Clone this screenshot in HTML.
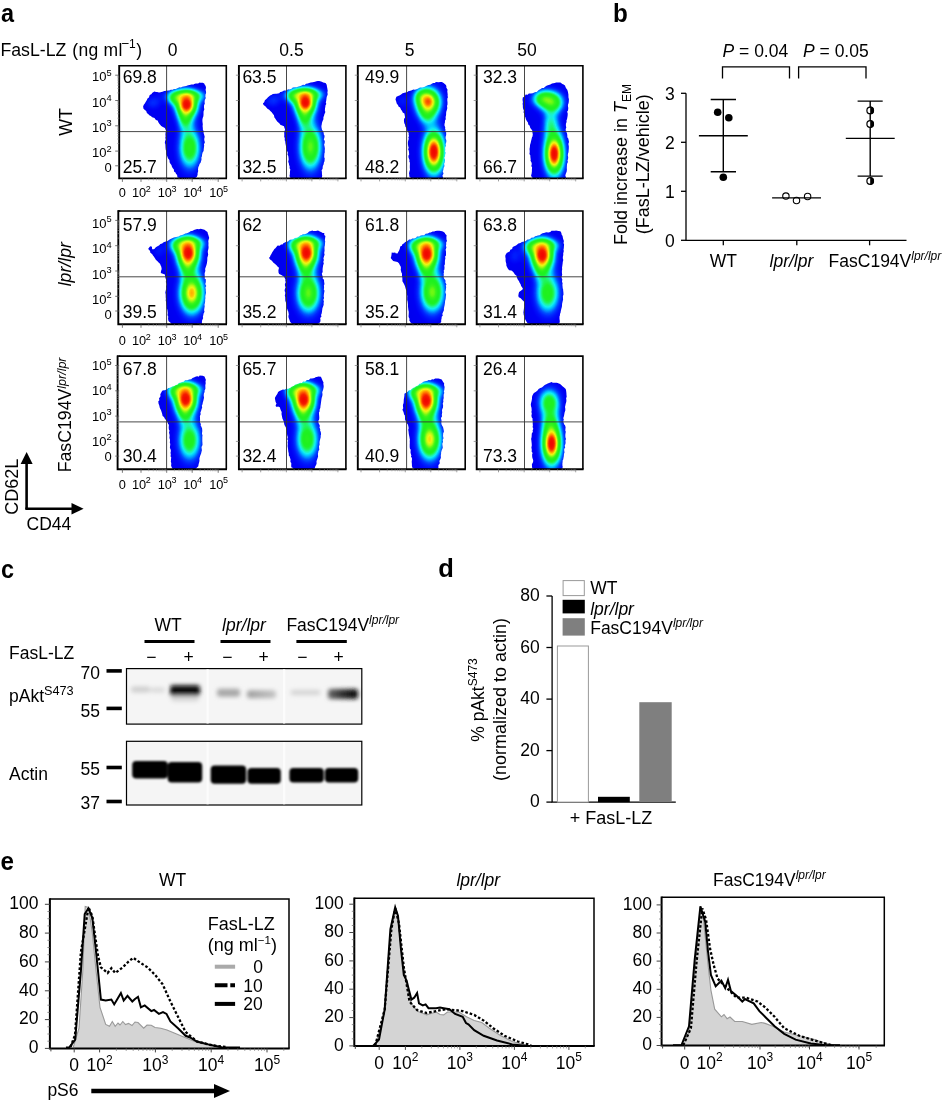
<!DOCTYPE html><html><head><meta charset="utf-8"><style>html,body{margin:0;padding:0;background:#fff;}svg{display:block;will-change:transform;}text{font-family:"Liberation Sans",sans-serif;fill:#000;}</style></head><body>
<svg width="946" height="1101" viewBox="0 0 946 1101">
<defs><filter id="jet" filterUnits="userSpaceOnUse" x="0" y="0" width="946" height="1101" color-interpolation-filters="sRGB">
<feGaussianBlur in="SourceGraphic" stdDeviation="1.2" result="b"/>
<feColorMatrix in="b" type="matrix" values="0 0 0 1 0  0 0 0 1 0  0 0 0 1 0  0 0 0 0 1" result="g"/>
<feComponentTransfer in="g">
<feFuncR type="table" tableValues="0.000 0.000 0.000 0.000 0.000 0.000 0.000 0.078 0.118 0.118 0.118 0.118 0.157 0.235 0.431 0.706 0.941 1.000 1.000 0.961 0.941"/>
<feFuncG type="table" tableValues="0.000 0.000 0.059 0.157 0.314 0.549 0.784 0.941 0.961 0.961 0.949 0.949 0.949 0.961 0.973 0.980 0.961 0.745 0.431 0.118 0.000"/>
<feFuncB type="table" tableValues="0.941 0.961 0.980 1.000 1.000 1.000 1.000 0.941 0.667 0.353 0.157 0.118 0.118 0.098 0.078 0.078 0.078 0.000 0.000 0.000 0.000"/>
</feComponentTransfer>
</filter><radialGradient id="gau"><stop offset="0.00" stop-color="#fff" stop-opacity="1.0000"/><stop offset="0.10" stop-color="#fff" stop-opacity="0.9560"/><stop offset="0.20" stop-color="#fff" stop-opacity="0.8353"/><stop offset="0.30" stop-color="#fff" stop-opacity="0.6670"/><stop offset="0.40" stop-color="#fff" stop-opacity="0.4868"/><stop offset="0.50" stop-color="#fff" stop-opacity="0.3247"/><stop offset="0.60" stop-color="#fff" stop-opacity="0.1979"/><stop offset="0.70" stop-color="#fff" stop-opacity="0.1103"/><stop offset="0.80" stop-color="#fff" stop-opacity="0.0561"/><stop offset="0.90" stop-color="#fff" stop-opacity="0.0261"/><stop offset="1.00" stop-color="#fff" stop-opacity="0.0111"/></radialGradient><clipPath id="cl00"><path d="M143.1,106.4 L143.8,104.7 L144.8,103.6 L145.8,101.8 L146.6,100.4 L147.5,98.4 L148.9,97.4 L149.7,95.0 L151.3,94.3 L152.4,92.7 L154.4,91.6 L156.0,91.9 L157.1,91.9 L159.0,92.6 L160.5,92.2 L162.5,91.8 L164.2,91.1 L166.4,90.7 L168.2,90.6 L169.2,90.4 L170.8,89.7 L172.7,89.7 L173.9,89.1 L175.8,88.9 L177.8,87.9 L179.7,87.2 L180.9,87.4 L182.3,86.7 L183.7,86.5 L186.2,85.9 L188.1,85.2 L189.7,85.0 L191.4,84.4 L193.5,84.5 L194.8,83.8 L196.0,83.4 L198.1,83.4 L199.7,82.5 L200.4,82.8 L202.7,82.8 L204.2,83.4 L205.0,85.3 L205.6,85.8 L206.0,87.8 L205.6,89.7 L206.0,91.5 L206.1,93.1 L205.5,94.4 L205.4,96.7 L205.8,97.9 L204.8,99.9 L204.6,102.0 L204.8,103.6 L204.0,105.6 L204.0,107.6 L204.3,109.5 L203.6,111.2 L203.5,112.4 L203.5,114.9 L203.3,116.6 L202.7,117.9 L202.4,119.8 L202.4,120.9 L202.6,122.7 L202.8,124.2 L202.6,125.9 L202.8,127.7 L202.9,130.0 L203.7,131.0 L203.6,132.9 L204.0,134.3 L204.7,136.8 L204.5,137.8 L204.2,139.1 L204.4,140.8 L204.9,142.2 L203.9,144.5 L204.2,145.4 L204.0,146.9 L203.7,149.5 L203.6,151.0 L202.6,152.4 L202.1,154.5 L202.0,156.2 L201.4,157.3 L201.5,159.7 L201.1,161.1 L200.6,162.7 L199.5,164.0 L199.3,164.9 L198.3,167.2 L198.0,169.5 L198.2,171.1 L197.6,173.3 L197.6,174.8 L196.9,176.7 L195.3,178.0 L194.5,179.0 L193.1,178.7 L191.1,179.2 L188.4,179.1 L187.1,179.2 L184.9,178.8 L182.4,179.0 L180.8,178.8 L180.2,178.2 L177.5,177.6 L177.1,175.1 L175.8,173.5 L175.7,172.8 L174.0,171.4 L173.9,169.6 L172.6,168.1 L171.6,166.1 L171.6,165.2 L170.4,163.8 L169.6,162.2 L169.4,159.9 L168.1,158.4 L167.5,157.1 L166.9,155.3 L166.3,154.2 L166.2,152.2 L166.1,151.0 L165.7,149.4 L165.5,147.4 L165.4,145.3 L165.3,143.9 L164.8,142.9 L165.1,141.0 L165.7,139.5 L165.3,137.8 L165.6,136.4 L165.4,134.4 L165.6,132.3 L166.1,131.0 L165.7,129.9 L164.9,128.0 L162.9,127.0 L161.2,126.0 L160.2,124.7 L159.3,123.8 L158.5,122.4 L157.6,120.6 L155.9,120.1 L154.5,118.1 L152.2,117.3 L150.8,116.0 L149.3,115.3 L148.7,114.5 L146.9,113.0 L146.2,111.1 L145.2,110.3 L143.5,108.7Z"/></clipPath><clipPath id="bx00"><rect x="119.2" y="65.8" width="107.1" height="112.6"/></clipPath><clipPath id="cl01"><path d="M262.9,103.5 L264.2,102.2 L264.9,100.3 L266.9,98.6 L268.0,97.2 L270.1,95.5 L271.8,94.7 L272.8,94.0 L275.3,93.7 L276.6,93.8 L279.2,93.3 L280.3,92.0 L281.9,91.8 L284.0,90.5 L286.2,90.5 L288.2,89.3 L289.2,89.5 L291.5,88.7 L292.8,87.5 L295.3,87.3 L296.5,87.2 L298.6,86.6 L299.6,86.2 L301.1,85.8 L303.0,84.8 L304.7,84.9 L306.0,83.7 L307.8,83.4 L309.1,82.9 L310.7,82.5 L312.8,82.2 L315.0,81.7 L316.4,81.3 L317.8,80.9 L319.2,80.9 L321.8,81.8 L323.2,82.4 L325.6,83.1 L326.7,84.8 L327.0,86.7 L327.3,88.2 L327.7,90.7 L327.4,92.6 L327.7,94.3 L327.3,95.6 L326.7,97.0 L326.4,99.2 L326.3,100.2 L325.8,102.5 L326.3,104.0 L325.5,105.2 L325.3,106.9 L325.0,108.5 L324.9,110.7 L325.4,112.0 L324.3,114.4 L324.1,115.4 L323.4,117.2 L323.4,119.2 L322.6,121.1 L322.0,122.8 L321.7,124.7 L321.4,126.0 L321.5,127.6 L322.0,129.8 L322.9,131.0 L323.6,132.6 L323.9,134.7 L324.6,135.7 L324.4,137.6 L323.8,139.4 L324.8,140.9 L324.7,142.9 L324.1,144.5 L324.6,146.8 L324.9,148.7 L324.7,150.7 L324.8,152.3 L324.4,153.4 L324.3,155.3 L324.2,157.2 L324.7,158.2 L324.5,161.3 L323.9,162.5 L323.6,164.6 L322.9,165.8 L322.7,167.0 L322.6,168.8 L321.6,170.3 L321.9,171.8 L322.0,174.4 L322.2,175.7 L321.8,177.8 L319.7,178.9 L318.5,178.6 L316.8,178.9 L315.9,179.1 L314.1,179.0 L311.8,179.3 L310.5,179.8 L308.6,179.5 L306.4,179.7 L304.3,179.4 L302.8,179.5 L300.9,180.2 L298.0,179.6 L297.1,180.0 L295.1,179.2 L293.4,179.7 L292.2,179.1 L291.1,178.8 L290.0,177.2 L289.5,175.9 L289.9,174.1 L289.9,172.2 L290.3,169.3 L289.5,168.2 L289.7,166.4 L289.0,164.8 L288.9,163.6 L288.2,161.8 L288.7,159.4 L288.6,158.3 L288.3,156.1 L287.5,154.4 L287.9,152.8 L287.0,150.7 L286.6,148.3 L286.1,147.5 L285.9,145.8 L285.4,143.3 L285.2,141.3 L284.7,140.2 L284.8,138.3 L284.2,136.7 L284.3,134.9 L284.2,132.2 L284.7,130.8 L285.1,129.5 L284.3,127.4 L284.0,126.3 L282.1,125.5 L280.3,124.8 L279.3,123.2 L277.7,121.9 L276.5,120.5 L275.2,118.5 L274.4,117.5 L273.9,115.1 L273.3,114.4 L271.7,112.2 L270.3,110.9 L269.2,109.8 L267.9,108.9 L267.2,108.5 L265.6,106.4 L263.6,105.0Z"/></clipPath><clipPath id="bx01"><rect x="238.9" y="65.8" width="107" height="112.6"/></clipPath><clipPath id="cl02"><path d="M395.9,98.0 L396.4,96.8 L398.7,95.7 L400.0,95.2 L401.7,94.0 L402.6,93.3 L404.5,92.7 L407.5,92.1 L408.7,90.9 L409.4,91.1 L411.9,90.3 L413.3,89.4 L414.9,89.7 L417.2,89.1 L419.1,88.0 L420.0,87.4 L422.1,87.4 L424.2,86.9 L425.6,86.3 L427.1,85.5 L428.4,85.1 L430.2,84.7 L432.2,83.5 L433.2,83.0 L435.1,83.0 L435.7,82.1 L438.7,82.2 L440.3,81.9 L441.9,82.1 L443.6,83.1 L445.9,85.0 L446.4,86.2 L446.3,87.5 L447.6,89.8 L447.3,91.2 L447.7,94.4 L447.6,95.4 L447.9,97.6 L447.3,98.4 L447.3,100.6 L447.5,102.2 L447.5,104.6 L447.0,106.0 L447.3,107.9 L447.0,109.6 L446.2,111.9 L446.1,113.9 L446.1,114.9 L445.6,117.0 L445.8,119.3 L445.0,120.5 L444.9,122.8 L444.6,123.5 L444.4,125.3 L445.2,127.2 L445.1,129.1 L445.6,129.7 L445.2,131.3 L446.1,132.0 L446.2,134.8 L445.9,135.9 L445.6,137.0 L445.7,138.8 L446.3,140.2 L446.3,142.0 L445.6,144.3 L445.9,145.8 L445.1,147.7 L445.3,149.9 L445.0,151.2 L445.6,152.7 L445.0,155.2 L445.2,156.1 L444.3,157.7 L445.1,159.8 L444.7,162.4 L444.1,163.7 L444.5,166.1 L443.6,168.1 L443.4,169.5 L442.8,171.7 L443.5,173.2 L443.3,174.0 L442.4,175.7 L443.0,177.3 L443.2,178.7 L440.6,178.8 L440.2,178.5 L438.8,179.2 L437.4,179.3 L435.7,179.0 L433.7,179.1 L432.3,178.9 L429.8,179.7 L427.9,179.1 L425.7,179.7 L424.0,180.2 L422.6,180.2 L420.1,179.3 L418.1,179.7 L417.0,179.6 L415.0,179.4 L414.0,179.5 L412.9,179.4 L411.9,178.4 L410.4,177.6 L409.3,176.5 L409.3,174.9 L409.0,173.3 L409.3,172.1 L410.0,169.5 L409.8,167.9 L409.8,165.8 L409.9,164.8 L409.9,162.6 L409.3,161.7 L409.5,160.0 L408.5,157.6 L408.4,155.8 L409.2,154.4 L409.0,152.4 L408.8,150.8 L408.1,149.6 L408.7,147.4 L408.3,146.6 L407.9,144.2 L407.9,142.1 L408.2,140.7 L408.8,138.7 L408.3,137.4 L409.0,135.9 L408.6,134.6 L408.7,133.0 L407.3,131.1 L407.0,130.1 L406.5,128.1 L405.4,126.8 L405.0,124.4 L404.3,123.2 L403.9,121.0 L404.1,118.7 L405.1,117.5 L404.6,114.8 L404.4,113.4 L402.7,112.6 L402.1,111.1 L401.1,109.7 L400.1,107.5 L398.5,106.4 L398.1,105.3 L396.7,103.6 L396.2,101.6 L395.5,99.6Z"/></clipPath><clipPath id="bx02"><rect x="357.8" y="65.8" width="107.4" height="112.6"/></clipPath><clipPath id="cl03"><path d="M522.5,99.8 L522.8,97.6 L524.6,96.6 L525.7,94.4 L527.7,94.8 L528.8,93.4 L530.9,93.4 L532.6,93.3 L534.2,92.5 L535.6,92.1 L536.7,92.0 L538.2,90.6 L538.8,89.9 L541.1,88.8 L541.9,88.1 L543.9,88.0 L544.7,86.9 L547.0,85.6 L548.8,84.9 L550.3,84.5 L552.0,83.6 L553.4,83.3 L554.8,82.9 L556.1,82.4 L558.0,82.6 L560.4,82.6 L562.4,83.9 L563.6,84.4 L565.0,85.6 L565.6,87.2 L566.3,88.6 L567.3,89.8 L567.9,91.7 L568.4,94.5 L568.4,96.1 L568.5,97.8 L568.9,99.1 L568.8,101.6 L568.6,103.1 L567.9,105.1 L568.1,106.9 L568.3,107.9 L568.0,110.5 L567.1,111.7 L567.7,113.2 L567.7,114.9 L567.5,116.6 L567.0,119.2 L566.5,120.3 L566.6,122.1 L565.9,123.7 L565.9,126.1 L566.3,127.6 L565.7,129.0 L565.7,130.2 L566.4,132.0 L567.1,133.8 L567.3,135.5 L567.3,137.2 L568.3,138.4 L568.7,140.5 L569.0,142.1 L568.4,143.8 L568.5,144.8 L568.8,146.3 L568.8,148.2 L568.6,150.7 L568.5,152.2 L568.1,153.3 L567.8,155.2 L568.2,157.2 L568.0,159.3 L567.5,160.2 L567.9,161.9 L567.0,164.1 L566.9,165.9 L566.8,168.0 L566.9,169.4 L566.7,171.4 L565.9,173.4 L565.7,174.1 L565.3,175.8 L565.9,177.0 L565.9,178.5 L562.7,178.9 L562.3,178.7 L561.1,178.9 L560.0,179.3 L557.8,179.6 L555.9,179.3 L554.4,179.1 L552.1,179.8 L550.1,179.6 L549.1,179.3 L546.4,179.8 L544.7,179.9 L543.1,179.4 L540.8,179.5 L538.8,180.0 L538.0,179.7 L535.8,179.7 L535.3,179.1 L534.3,178.8 L532.1,177.4 L531.2,176.1 L531.1,175.3 L531.6,173.7 L531.9,171.3 L531.9,169.4 L532.1,167.4 L531.3,166.1 L531.8,164.1 L531.4,162.2 L530.5,160.7 L530.7,159.6 L530.4,157.2 L530.3,155.3 L529.4,154.1 L529.7,152.2 L529.7,150.8 L529.5,149.1 L529.9,147.1 L530.0,145.1 L530.7,142.7 L531.0,141.2 L531.4,139.8 L532.0,137.3 L532.4,136.7 L532.8,134.5 L532.4,132.3 L532.6,131.4 L531.9,130.0 L530.3,128.0 L530.0,127.0 L529.7,125.7 L528.1,124.2 L528.1,122.8 L526.5,120.5 L525.7,118.8 L525.7,118.0 L524.9,116.6 L524.4,114.2 L523.5,112.2 L523.9,110.4 L523.2,108.9 L522.8,107.1 L522.9,106.0 L522.6,103.7 L522.9,102.2 L522.7,100.9Z"/></clipPath><clipPath id="bx03"><rect x="476.7" y="65.8" width="106.2" height="112.6"/></clipPath><clipPath id="cl10"><path d="M148.3,248.4 L149.0,247.8 L149.5,247.0 L150.5,246.3 L151.6,246.4 L152.1,247.4 L151.9,248.5 L153.1,249.8 L153.2,249.2 L154.7,248.7 L155.8,247.2 L157.9,246.1 L159.0,245.5 L160.4,244.0 L162.2,243.4 L163.2,242.6 L165.0,241.8 L167.6,240.9 L168.9,239.9 L170.1,239.3 L172.2,238.3 L173.9,237.6 L174.9,237.2 L177.3,236.7 L178.6,236.5 L180.1,235.4 L182.1,235.1 L184.0,234.3 L185.3,233.4 L186.9,233.2 L189.2,232.3 L190.5,231.3 L192.9,230.8 L193.9,230.1 L196.3,229.3 L197.1,229.0 L199.0,229.3 L200.6,228.7 L202.6,229.3 L204.5,229.8 L205.7,230.7 L207.5,232.1 L207.8,233.6 L208.2,234.6 L209.2,238.0 L208.9,238.8 L208.4,240.4 L208.3,241.6 L208.5,243.1 L208.4,245.6 L208.6,247.1 L208.4,249.0 L207.8,251.0 L207.9,253.0 L208.2,254.5 L207.7,256.5 L207.3,257.8 L207.3,260.2 L207.1,261.9 L206.8,263.7 L206.3,265.4 L205.6,267.4 L205.1,268.9 L205.4,270.9 L205.0,272.0 L204.6,273.6 L204.7,274.8 L204.8,277.6 L204.7,278.4 L205.8,279.3 L205.8,282.4 L205.4,283.1 L205.5,284.7 L206.3,285.9 L205.4,287.5 L205.8,289.3 L205.8,291.0 L206.1,292.6 L205.6,294.8 L205.3,296.3 L205.4,298.2 L205.1,300.1 L205.2,300.8 L205.0,302.7 L204.5,304.5 L204.7,306.6 L204.4,308.0 L204.1,310.2 L204.5,311.8 L203.5,313.8 L203.4,314.8 L202.8,316.9 L203.2,318.1 L202.6,319.3 L202.0,320.8 L201.9,322.8 L202.0,323.9 L198.8,323.8 L197.8,323.8 L196.8,324.1 L195.3,324.2 L193.1,324.3 L191.4,324.4 L189.0,325.1 L187.3,324.7 L185.3,325.0 L183.4,325.2 L181.7,325.0 L180.0,325.4 L177.3,325.3 L176.5,325.1 L174.2,325.0 L173.3,323.9 L171.6,324.5 L170.6,322.8 L168.9,321.4 L168.3,320.4 L168.0,318.1 L168.4,316.9 L167.5,315.1 L167.8,313.1 L167.6,311.4 L167.4,309.7 L166.5,308.0 L166.6,306.3 L166.3,304.8 L166.2,302.4 L165.7,300.6 L165.9,298.8 L165.7,297.2 L165.7,295.9 L165.7,294.4 L165.3,292.5 L165.8,290.3 L166.2,288.7 L166.0,286.5 L166.7,284.5 L166.5,283.4 L165.8,282.0 L166.2,280.0 L165.5,278.2 L165.1,276.1 L164.9,274.4 L162.8,273.8 L160.8,273.0 L161.0,270.9 L161.7,269.1 L161.3,266.7 L160.7,265.4 L160.0,263.8 L158.6,262.4 L157.0,260.8 L156.0,260.1 L155.1,258.4 L153.8,256.4 L152.8,255.2 L152.3,254.3 L150.2,252.4 L150.1,251.0 L148.6,249.5Z"/></clipPath><clipPath id="bx10"><rect x="119.2" y="211.0" width="107.1" height="113.3"/></clipPath><clipPath id="cl11"><path d="M268.9,257.8 L270.0,257.0 L270.3,255.7 L271.4,254.0 L272.1,252.4 L273.3,250.8 L274.4,249.1 L275.4,248.2 L276.8,246.6 L277.7,245.6 L279.7,245.8 L281.0,244.6 L282.5,244.4 L283.6,243.1 L284.4,242.7 L285.7,242.1 L288.1,241.6 L288.7,240.8 L290.0,239.7 L292.3,239.5 L294.0,238.7 L294.8,238.0 L297.0,237.8 L299.1,236.6 L300.1,235.6 L301.9,235.1 L302.8,234.3 L304.4,234.2 L306.1,233.8 L307.6,232.9 L309.1,231.4 L311.0,231.1 L312.4,230.6 L313.2,231.0 L315.9,231.0 L318.0,230.4 L319.9,231.4 L321.5,232.2 L322.7,233.0 L324.3,233.0 L324.2,234.9 L325.4,236.0 L325.0,239.1 L324.9,240.6 L325.2,241.2 L325.0,243.3 L324.9,245.2 L324.5,247.1 L324.5,248.9 L324.6,250.6 L324.2,252.9 L324.6,254.7 L324.1,256.1 L323.4,258.5 L323.9,260.1 L323.3,261.7 L323.8,263.8 L323.2,265.1 L322.8,267.6 L322.6,269.1 L322.6,271.0 L322.7,272.0 L321.8,273.4 L322.2,275.0 L322.9,277.5 L322.6,278.6 L324.0,279.8 L324.1,281.7 L324.4,283.4 L324.3,284.8 L323.9,285.5 L324.1,287.8 L323.8,289.4 L324.5,290.7 L324.1,292.9 L323.9,294.3 L323.7,296.6 L324.1,298.0 L323.3,300.1 L323.9,301.1 L323.6,303.2 L323.7,304.8 L323.0,306.8 L322.4,308.3 L322.1,310.7 L321.9,312.3 L321.6,313.8 L321.0,314.9 L321.5,316.6 L320.2,318.1 L320.5,319.9 L320.3,321.8 L319.5,322.7 L316.6,324.5 L316.4,324.2 L314.8,324.2 L313.5,324.5 L312.0,325.0 L310.1,325.3 L307.7,324.5 L305.7,324.8 L303.6,324.7 L302.1,325.5 L300.1,325.6 L298.7,324.6 L296.8,324.8 L294.7,325.1 L293.6,324.4 L292.8,324.5 L291.1,322.9 L289.8,321.3 L289.7,320.5 L288.6,317.7 L288.4,316.0 L288.8,314.5 L288.3,311.6 L287.9,310.9 L287.4,309.6 L286.5,307.2 L286.8,306.4 L286.4,304.1 L286.1,302.9 L285.3,300.7 L285.2,298.8 L285.2,297.2 L284.8,295.5 L285.2,293.7 L285.2,292.2 L284.6,291.1 L284.8,289.3 L285.5,287.4 L284.9,285.2 L284.9,284.1 L285.7,282.2 L285.2,280.6 L285.4,279.6 L284.1,276.7 L282.1,275.4 L281.2,275.0 L279.2,274.1 L278.5,272.5 L278.4,270.2 L279.0,267.8 L277.5,266.5 L276.5,265.3 L274.8,263.8 L273.2,262.5 L271.9,260.7 L270.1,259.5Z"/></clipPath><clipPath id="bx11"><rect x="238.9" y="211.0" width="107" height="113.3"/></clipPath><clipPath id="cl12"><path d="M391.7,252.5 L393.1,252.7 L395.3,252.6 L395.5,253.3 L397.5,253.6 L398.0,252.6 L399.1,250.5 L399.8,248.7 L400.2,246.5 L401.9,245.8 L402.2,244.5 L404.1,243.2 L405.2,242.0 L406.7,241.5 L408.4,240.3 L409.0,239.6 L411.0,239.4 L412.2,238.5 L414.1,238.4 L416.0,237.7 L417.0,236.6 L419.2,236.4 L420.8,235.5 L422.4,235.2 L424.2,235.2 L425.6,233.7 L427.8,233.5 L429.6,232.6 L430.7,232.6 L432.6,231.4 L434.2,231.4 L435.4,231.0 L437.1,230.7 L439.4,230.8 L442.2,231.2 L443.3,231.7 L444.7,232.8 L445.3,234.1 L446.6,235.2 L446.4,237.2 L446.5,239.5 L447.0,241.0 L446.2,242.3 L446.2,244.7 L445.9,245.6 L446.4,247.5 L445.6,249.8 L446.0,251.6 L446.0,253.0 L446.0,255.4 L445.1,256.6 L445.4,258.6 L445.0,260.0 L444.9,261.8 L444.9,264.2 L444.2,265.7 L444.5,267.0 L444.4,269.4 L443.7,270.5 L444.0,272.2 L443.5,274.0 L443.9,274.7 L443.5,276.6 L444.2,278.7 L445.1,279.8 L445.6,281.0 L445.3,282.2 L446.5,284.6 L445.8,285.5 L446.2,286.9 L446.0,288.3 L445.8,290.5 L445.3,291.9 L446.1,294.4 L445.9,296.1 L445.7,298.2 L445.6,299.1 L445.1,301.0 L445.0,302.6 L444.6,305.2 L444.3,306.5 L443.9,308.6 L443.9,310.3 L442.9,312.4 L442.3,314.0 L442.8,315.4 L441.7,316.8 L441.6,318.4 L441.2,320.1 L441.2,321.9 L440.3,322.9 L438.0,324.0 L437.6,324.3 L436.0,324.6 L434.1,324.9 L432.6,324.9 L430.8,325.0 L428.6,324.9 L426.4,325.3 L424.5,325.4 L422.1,325.2 L421.0,325.1 L418.8,325.2 L416.7,325.5 L415.1,325.0 L413.6,324.0 L413.2,323.9 L410.9,323.0 L410.3,322.1 L409.2,320.2 L409.6,319.1 L408.6,317.0 L408.6,315.6 L408.7,313.9 L408.8,311.7 L408.4,310.0 L408.2,308.2 L408.0,306.8 L408.0,304.5 L407.8,302.6 L407.6,301.3 L407.2,299.9 L407.2,297.6 L407.3,296.3 L406.9,294.1 L406.6,292.6 L406.6,291.0 L405.8,289.2 L405.2,287.1 L404.9,286.0 L404.0,284.0 L403.0,282.3 L402.4,281.2 L402.4,279.2 L402.3,277.4 L402.0,275.9 L402.0,273.4 L401.4,272.4 L400.7,269.8 L400.9,268.3 L400.8,266.7 L399.9,265.2 L398.9,263.3 L397.5,262.1 L395.2,261.4 L393.2,261.0 L392.1,259.8 L390.7,257.9 L391.2,256.4 L391.5,254.7Z"/></clipPath><clipPath id="bx12"><rect x="357.8" y="211.0" width="107.4" height="113.3"/></clipPath><clipPath id="cl13"><path d="M506.2,254.0 L506.6,252.9 L508.6,251.9 L509.7,251.4 L510.3,249.8 L512.1,249.0 L512.7,246.9 L514.8,246.1 L516.0,245.6 L517.5,244.3 L518.4,243.5 L520.4,243.0 L521.9,241.9 L524.2,241.5 L525.9,241.1 L527.5,239.5 L528.7,239.6 L530.1,238.9 L531.3,237.8 L533.7,237.4 L535.1,236.3 L536.5,236.0 L537.8,235.5 L539.6,235.2 L541.2,234.1 L542.5,233.3 L544.9,232.7 L546.1,232.3 L548.4,232.4 L550.3,232.0 L551.5,230.8 L553.8,230.8 L555.2,230.7 L555.9,230.5 L558.4,231.1 L560.4,231.2 L561.4,233.0 L561.6,234.6 L562.6,236.0 L562.8,237.2 L563.0,238.4 L563.9,241.0 L563.5,243.1 L564.1,244.5 L563.9,246.7 L563.8,248.3 L563.5,249.4 L563.8,251.0 L563.2,253.4 L563.3,255.1 L562.9,256.4 L562.8,258.2 L563.3,260.1 L562.8,261.7 L562.6,263.8 L562.4,265.3 L562.0,267.9 L562.2,269.1 L561.9,271.0 L561.9,272.6 L562.2,274.6 L561.7,276.7 L561.6,277.9 L562.3,279.2 L562.0,281.9 L562.6,282.9 L562.4,285.1 L562.6,286.8 L562.7,288.3 L563.1,289.2 L563.2,290.8 L563.4,292.6 L563.5,294.7 L562.9,296.1 L563.0,297.9 L563.1,299.6 L562.5,301.9 L562.1,303.8 L562.0,305.4 L561.9,306.8 L561.4,308.4 L560.8,310.9 L560.6,312.4 L560.0,313.9 L559.9,315.4 L559.5,316.4 L559.5,318.8 L559.8,321.3 L559.6,322.7 L557.8,324.3 L556.8,324.6 L554.8,324.2 L553.3,324.8 L552.3,324.6 L550.3,325.0 L548.8,324.8 L547.0,325.0 L544.8,324.9 L542.3,325.6 L540.9,325.4 L538.3,324.7 L536.5,324.8 L534.9,324.9 L533.0,324.6 L532.1,324.3 L530.9,324.4 L529.7,323.8 L527.6,323.2 L526.2,321.3 L525.8,320.6 L524.6,318.2 L524.8,317.0 L523.7,314.9 L523.6,313.8 L523.4,312.5 L523.8,309.6 L524.0,308.0 L524.5,306.6 L524.3,304.1 L524.7,302.7 L523.9,301.4 L522.3,300.1 L520.7,298.3 L518.8,297.3 L518.3,295.9 L518.6,293.7 L519.1,292.1 L519.8,291.5 L521.2,290.4 L523.0,289.0 L522.2,287.5 L521.1,286.1 L520.6,284.3 L519.5,282.5 L519.0,281.3 L517.6,279.3 L517.0,277.7 L516.5,275.8 L514.9,274.6 L513.8,272.7 L513.0,271.7 L511.4,270.6 L509.2,270.2 L508.1,269.1 L507.5,268.0 L506.4,265.8 L506.3,263.7 L505.8,261.9 L505.6,260.7 L505.6,258.3 L505.3,256.9 L505.4,255.0Z"/></clipPath><clipPath id="bx13"><rect x="476.7" y="211.0" width="106.2" height="113.3"/></clipPath><clipPath id="cl20"><path d="M158.3,401.2 L159.4,400.3 L159.0,398.4 L160.5,396.2 L160.3,394.2 L161.4,392.2 L162.2,390.7 L163.8,390.2 L164.9,390.2 L167.6,388.7 L168.2,388.0 L169.2,388.1 L171.4,387.0 L172.2,386.6 L174.4,386.1 L175.3,385.2 L177.6,384.4 L178.8,383.1 L180.9,382.5 L182.0,382.1 L183.6,381.7 L185.1,380.3 L187.2,380.2 L189.3,379.6 L191.2,379.2 L192.5,378.1 L193.9,377.4 L196.0,376.6 L197.6,376.3 L198.8,376.8 L199.6,375.6 L202.7,375.8 L204.5,376.4 L205.5,378.9 L205.9,379.7 L205.5,381.5 L205.7,383.2 L205.3,385.3 L205.4,388.1 L205.4,388.8 L204.6,390.6 L204.6,392.0 L203.9,393.4 L203.7,395.5 L204.0,397.7 L203.6,399.5 L203.3,400.9 L202.9,402.0 L202.5,404.2 L201.8,405.8 L202.2,407.4 L201.6,408.9 L201.0,411.2 L200.4,412.3 L200.7,414.2 L199.9,416.0 L200.0,417.5 L200.0,418.9 L200.1,420.2 L199.8,422.0 L200.9,424.0 L200.7,425.8 L201.3,426.6 L202.1,428.5 L202.3,430.9 L202.1,432.3 L202.0,433.9 L202.5,435.2 L202.3,437.0 L202.3,439.6 L202.3,441.4 L202.4,442.6 L202.5,445.0 L201.5,446.9 L201.6,447.9 L201.9,450.2 L201.5,451.7 L201.1,453.6 L200.2,455.7 L199.6,457.7 L199.4,459.1 L199.5,460.7 L199.2,462.3 L198.6,464.2 L198.3,466.2 L197.0,467.4 L196.0,468.5 L194.4,469.4 L192.7,469.2 L191.9,470.0 L190.3,469.4 L188.5,469.6 L186.6,470.4 L184.2,470.7 L182.8,470.0 L180.4,470.2 L179.2,470.3 L176.8,469.6 L175.3,470.1 L174.0,469.6 L173.1,469.3 L171.9,467.8 L171.6,466.9 L171.1,465.7 L171.3,463.2 L170.8,461.5 L171.0,460.1 L171.2,457.0 L170.5,456.5 L170.8,454.6 L170.5,452.8 L170.8,451.4 L170.8,449.9 L169.9,447.8 L170.0,446.6 L170.3,444.0 L169.8,442.6 L170.0,441.1 L169.9,439.3 L169.4,438.0 L169.6,436.1 L169.6,435.1 L169.0,432.4 L169.5,430.8 L168.9,429.4 L168.7,428.0 L168.7,426.9 L168.9,424.7 L168.1,424.1 L167.7,422.4 L166.5,420.8 L165.3,419.2 L164.7,418.5 L164.0,417.1 L162.6,416.0 L162.2,413.9 L161.6,412.0 L161.0,410.3 L160.1,408.5 L159.7,407.5 L159.2,405.3 L158.5,403.4Z"/></clipPath><clipPath id="bx20"><rect x="119.2" y="356.1" width="107.1" height="113.2"/></clipPath><clipPath id="cl21"><path d="M275.0,399.0 L274.9,397.8 L276.4,395.2 L277.4,393.8 L278.1,392.1 L279.5,391.0 L281.2,390.2 L282.9,389.5 L284.5,389.7 L286.4,388.6 L288.0,389.0 L289.0,388.2 L290.4,387.7 L291.6,386.7 L294.0,385.8 L294.9,384.8 L296.5,384.3 L298.7,383.6 L300.0,382.8 L301.7,382.9 L303.2,381.6 L305.1,381.7 L306.8,380.0 L308.9,380.1 L310.3,378.6 L312.0,378.4 L314.4,377.9 L316.0,376.9 L316.8,377.1 L318.3,376.6 L320.9,376.8 L321.6,378.2 L322.4,380.3 L323.0,381.4 L323.5,382.5 L323.3,383.8 L323.7,386.1 L323.6,387.5 L323.0,390.3 L322.6,391.0 L322.2,392.5 L322.5,394.0 L322.3,395.9 L321.7,397.8 L321.4,399.6 L321.2,400.9 L321.0,402.6 L320.7,404.7 L320.5,405.8 L320.3,408.0 L319.7,409.2 L319.5,411.7 L318.9,412.6 L319.1,414.9 L319.2,416.3 L319.3,417.9 L319.1,419.4 L318.3,421.1 L318.5,423.1 L319.2,424.3 L319.9,426.0 L319.4,427.2 L320.3,429.5 L320.0,430.2 L320.8,432.1 L321.1,434.3 L320.7,435.6 L320.7,437.3 L320.1,439.4 L319.7,440.9 L319.5,442.6 L319.6,444.7 L319.0,446.2 L319.1,448.3 L319.3,449.7 L318.4,450.9 L318.2,452.6 L317.9,453.7 L318.1,456.5 L317.3,458.9 L316.8,460.3 L316.4,462.1 L316.7,463.0 L316.2,464.8 L315.2,466.5 L314.7,468.5 L312.1,469.3 L311.3,469.3 L309.8,469.9 L307.7,470.1 L306.0,470.1 L304.5,469.6 L302.4,470.5 L299.9,469.5 L297.8,470.4 L296.0,470.1 L294.6,469.7 L293.4,468.8 L292.5,467.7 L291.3,467.3 L291.2,465.7 L291.3,463.1 L290.4,462.0 L290.5,459.3 L290.0,458.0 L289.5,456.3 L288.8,455.5 L288.8,453.6 L288.3,451.4 L288.1,449.5 L287.9,447.9 L287.6,446.1 L287.8,443.8 L287.6,442.4 L288.0,440.5 L287.2,439.2 L287.8,437.2 L287.1,434.9 L287.0,433.1 L286.6,432.1 L286.8,430.9 L286.1,427.9 L285.6,427.1 L284.5,425.0 L284.2,424.0 L283.9,421.9 L282.9,419.6 L282.4,418.4 L281.9,416.0 L281.5,414.1 L281.7,411.9 L281.0,410.8 L280.3,408.9 L279.8,407.2 L278.0,406.4 L276.8,407.0 L275.6,405.9 L275.8,405.0 L276.5,403.5 L275.6,402.0Z"/></clipPath><clipPath id="bx21"><rect x="238.9" y="356.1" width="107" height="113.2"/></clipPath><clipPath id="cl22"><path d="M402.4,409.8 L403.2,408.2 L403.1,407.0 L402.9,404.9 L403.6,402.9 L403.7,401.3 L403.8,399.5 L404.2,397.1 L404.4,395.4 L404.4,394.0 L404.7,393.5 L407.0,392.3 L407.9,391.5 L408.7,390.4 L410.7,390.0 L411.6,389.1 L413.4,387.8 L414.3,387.4 L416.1,386.3 L418.0,385.6 L419.6,383.8 L420.6,383.8 L422.4,382.4 L423.4,381.8 L425.0,381.3 L427.4,380.8 L428.7,379.9 L430.3,380.3 L432.2,379.3 L433.5,379.4 L435.1,378.5 L436.3,378.6 L438.5,378.4 L440.2,378.9 L441.7,379.4 L442.7,381.2 L443.2,382.0 L444.2,383.5 L444.0,385.1 L444.6,387.0 L444.3,390.2 L443.8,391.1 L444.3,392.9 L443.8,394.0 L443.6,396.1 L443.7,397.9 L443.2,400.1 L443.4,401.7 L442.7,403.8 L443.1,405.2 L443.0,407.4 L442.2,409.2 L442.0,410.4 L442.2,412.5 L441.8,414.4 L442.0,416.4 L440.9,418.0 L441.3,419.4 L441.6,420.9 L441.3,422.7 L441.5,424.2 L442.2,425.8 L443.0,427.0 L443.2,427.8 L443.8,430.6 L443.9,432.0 L443.2,432.9 L443.1,435.0 L443.0,436.0 L443.5,438.2 L442.7,440.1 L443.1,441.7 L442.3,443.7 L442.5,445.4 L442.8,447.4 L442.5,448.4 L441.7,450.3 L441.1,452.6 L441.1,453.8 L440.8,455.6 L440.9,457.7 L440.2,459.4 L439.4,461.0 L439.8,463.1 L439.4,463.9 L438.4,465.0 L438.4,466.4 L438.4,468.8 L436.2,469.0 L435.3,468.9 L434.0,469.4 L431.5,469.3 L430.1,469.5 L428.2,469.5 L425.9,470.1 L423.8,470.1 L422.3,470.0 L419.9,470.3 L418.1,470.2 L416.1,469.6 L415.2,469.0 L414.4,468.7 L412.6,467.9 L412.2,467.1 L411.9,465.7 L411.9,464.1 L411.7,461.7 L412.0,459.2 L411.9,458.0 L410.9,456.5 L411.4,455.8 L410.8,453.8 L410.5,452.3 L410.7,449.8 L409.9,448.5 L409.7,446.9 L409.7,444.5 L409.8,442.9 L409.7,441.1 L409.9,439.8 L409.6,438.3 L409.4,436.9 L408.8,434.0 L408.7,432.9 L408.5,431.2 L408.2,429.7 L408.7,428.3 L408.4,426.6 L407.9,424.5 L407.2,423.7 L406.4,421.7 L405.1,419.9 L405.0,418.0 L404.9,415.6 L404.1,414.6 L403.5,412.1Z"/></clipPath><clipPath id="bx22"><rect x="357.8" y="356.1" width="107.4" height="113.2"/></clipPath><clipPath id="cl23"><path d="M530.8,404.5 L531.0,403.3 L531.7,400.6 L532.0,398.5 L532.0,397.6 L532.2,396.0 L533.5,393.6 L534.3,392.8 L535.6,392.0 L537.3,390.7 L538.6,389.0 L540.3,387.9 L541.9,387.5 L543.6,386.0 L544.7,385.0 L546.3,384.2 L547.7,383.5 L549.7,382.7 L551.7,382.1 L552.7,382.8 L554.4,382.8 L556.6,382.8 L557.6,383.0 L560.1,383.9 L561.5,385.3 L562.8,386.4 L564.1,387.5 L565.7,388.9 L566.1,390.6 L566.4,392.9 L566.5,395.0 L566.7,396.6 L566.1,398.4 L566.4,400.0 L566.3,401.8 L565.7,403.8 L565.4,405.2 L565.0,407.1 L565.3,408.8 L565.3,410.4 L564.6,412.4 L564.2,414.8 L564.0,415.9 L563.2,418.2 L563.8,419.3 L563.3,421.4 L563.7,422.9 L564.2,424.4 L565.0,425.3 L565.6,427.2 L565.4,428.9 L565.3,430.8 L565.8,431.7 L565.5,433.2 L565.3,434.9 L565.4,437.3 L566.0,438.9 L565.4,440.4 L565.6,442.5 L565.4,444.0 L564.7,445.7 L565.2,447.5 L564.2,449.1 L564.2,450.3 L564.5,452.5 L564.0,453.8 L563.8,456.3 L563.5,457.8 L563.2,459.4 L562.6,460.5 L562.6,462.2 L562.4,462.9 L562.4,465.6 L562.7,466.8 L562.4,468.6 L559.5,469.4 L558.4,469.0 L557.4,469.2 L556.0,470.0 L554.5,470.0 L552.5,470.1 L551.0,470.1 L549.2,470.4 L546.7,469.7 L545.0,470.4 L542.8,470.2 L541.4,470.3 L538.8,469.9 L537.2,469.4 L536.6,469.5 L535.2,469.3 L533.9,468.8 L532.2,468.3 L532.0,466.2 L531.9,464.2 L533.1,462.1 L533.2,459.9 L532.5,458.3 L532.2,456.9 L532.1,454.6 L532.6,452.9 L531.6,451.6 L531.8,449.7 L531.4,447.4 L531.8,445.6 L531.7,443.5 L531.5,441.8 L531.3,439.8 L531.1,439.0 L531.6,437.1 L531.7,434.9 L531.8,433.4 L532.9,431.7 L532.6,430.5 L533.3,428.7 L532.6,427.1 L532.9,425.6 L532.7,423.6 L532.8,421.6 L532.5,420.3 L532.6,418.5 L531.8,417.4 L531.4,415.7 L531.8,413.6 L531.4,412.0 L531.7,410.2 L531.5,407.8 L531.0,406.2Z"/></clipPath><clipPath id="bx23"><rect x="476.7" y="356.1" width="106.2" height="113.2"/></clipPath></defs>
<rect width="946" height="1101" fill="#fff"/>
<text transform="translate(0.9,21.9) scale(0.92,1)" font-size="25.5" font-weight="bold">a</text>
<text x="0.4" y="55.6" font-size="17.5" textLength="66" lengthAdjust="spacingAndGlyphs">FasL-LZ</text>
<text x="72.3" y="55.6" font-size="17.5" textLength="50" lengthAdjust="spacing">(ng ml</text>
<text x="121.4" y="47.7" font-size="13.5">−</text><text x="129" y="47.7" font-size="12">1</text>
<text x="136.2" y="55.6" font-size="17.5">)</text>
<text x="172.5" y="56" font-size="17.5" text-anchor="middle">0</text>
<text x="291.5" y="56" font-size="17.5" text-anchor="middle">0.5</text>
<text x="409.5" y="56" font-size="17.5" text-anchor="middle">5</text>
<text x="527" y="56" font-size="17.5" text-anchor="middle">50</text>
<text transform="translate(71.8,122) rotate(-90)" font-size="17.7" text-anchor="middle">WT</text>
<text transform="translate(71.2,264.2) rotate(-90)" font-size="17.7" text-anchor="middle" font-style="italic">lpr/lpr</text>
<text transform="translate(71.4,472.3) rotate(-90)" font-size="17.7">FasC194V<tspan font-size="12.5" dy="-5.5" font-style="italic">lpr/lpr</tspan></text>
<g clip-path="url(#bx00)"><g clip-path="url(#cl00)"><g filter="url(#jet)"><rect x="119.2" y="65.8" width="107.1" height="112.6" fill="#000" fill-opacity="0"/><ellipse cx="186.70" cy="104.80" rx="22.50" ry="25.50" fill="url(#gau)" opacity="1.000"/><ellipse cx="186.70" cy="103.80" rx="12.00" ry="15.00" fill="url(#gau)" opacity="0.550"/><ellipse cx="186.20" cy="95.80" rx="36.00" ry="13.50" fill="url(#gau)" opacity="0.620"/><ellipse cx="185.20" cy="117.80" rx="15.00" ry="27.00" fill="url(#gau)" opacity="0.450"/><ellipse cx="175.20" cy="98.80" rx="15.00" ry="13.50" fill="url(#gau)" opacity="0.350"/><ellipse cx="189.70" cy="147.80" rx="22.80" ry="43.50" fill="url(#gau)" opacity="0.600"/><ellipse cx="153.20" cy="102.80" rx="18.00" ry="15.00" fill="url(#gau)" opacity="0.160"/></g></g></g><line x1="166.6" y1="65.8" x2="166.6" y2="178.39999999999998" stroke="#333" stroke-width="0.9"/><line x1="119.2" y1="131.6" x2="226.3" y2="131.6" stroke="#333" stroke-width="0.9"/><path d="M119.2,65.8H226.3V178.39999999999998" fill="none" stroke="#000" stroke-width="1.6"/><path d="M119.2,65.1V178.39999999999998H227.0" fill="none" stroke="#000" stroke-width="1.9"/><text x="122.7" y="82.69999999999999" font-size="17.5">69.8</text><text x="122.7" y="172.7" font-size="17.5">25.7</text><g clip-path="url(#bx01)"><g clip-path="url(#cl01)"><g filter="url(#jet)"><rect x="238.9" y="65.8" width="107" height="112.6" fill="#000" fill-opacity="0"/><ellipse cx="305.40" cy="102.80" rx="22.50" ry="25.50" fill="url(#gau)" opacity="1.000"/><ellipse cx="305.40" cy="101.80" rx="12.00" ry="15.00" fill="url(#gau)" opacity="0.550"/><ellipse cx="304.90" cy="94.30" rx="36.00" ry="13.50" fill="url(#gau)" opacity="0.620"/><ellipse cx="304.40" cy="115.80" rx="15.00" ry="27.00" fill="url(#gau)" opacity="0.450"/><ellipse cx="293.90" cy="96.80" rx="15.00" ry="13.50" fill="url(#gau)" opacity="0.350"/><ellipse cx="310.40" cy="146.80" rx="23.46" ry="48.00" fill="url(#gau)" opacity="0.700"/><ellipse cx="272.90" cy="100.80" rx="18.00" ry="15.00" fill="url(#gau)" opacity="0.160"/></g></g></g><line x1="286.5" y1="65.8" x2="286.5" y2="178.39999999999998" stroke="#333" stroke-width="0.9"/><line x1="238.9" y1="131.6" x2="345.9" y2="131.6" stroke="#333" stroke-width="0.9"/><path d="M238.9,65.8H345.9V178.39999999999998" fill="none" stroke="#000" stroke-width="1.6"/><path d="M238.9,65.1V178.39999999999998H346.59999999999997" fill="none" stroke="#000" stroke-width="1.9"/><text x="242.4" y="82.69999999999999" font-size="17.5">63.5</text><text x="242.4" y="172.7" font-size="17.5">32.5</text><g clip-path="url(#bx02)"><g clip-path="url(#cl02)"><g filter="url(#jet)"><rect x="357.8" y="65.8" width="107.4" height="112.6" fill="#000" fill-opacity="0"/><ellipse cx="428.30" cy="101.80" rx="25.50" ry="28.50" fill="url(#gau)" opacity="0.920"/><ellipse cx="422.30" cy="96.80" rx="16.56" ry="15.00" fill="url(#gau)" opacity="0.383"/><ellipse cx="426.80" cy="113.80" rx="18.00" ry="24.00" fill="url(#gau)" opacity="0.360"/><ellipse cx="433.80" cy="151.80" rx="22.08" ry="45.00" fill="url(#gau)" opacity="1.000"/><ellipse cx="433.80" cy="151.80" rx="12.00" ry="24.00" fill="url(#gau)" opacity="0.600"/><ellipse cx="401.80" cy="100.80" rx="12.00" ry="15.00" fill="url(#gau)" opacity="0.120"/></g></g></g><line x1="406.6" y1="65.8" x2="406.6" y2="178.39999999999998" stroke="#333" stroke-width="0.9"/><line x1="357.8" y1="131.6" x2="465.20000000000005" y2="131.6" stroke="#333" stroke-width="0.9"/><path d="M357.8,65.8H465.20000000000005V178.39999999999998" fill="none" stroke="#000" stroke-width="1.6"/><path d="M357.8,65.1V178.39999999999998H465.90000000000003" fill="none" stroke="#000" stroke-width="1.9"/><text x="365.1" y="82.69999999999999" font-size="17.5">49.9</text><text x="365.1" y="172.7" font-size="17.5">48.2</text><g clip-path="url(#bx03)"><g clip-path="url(#cl03)"><g filter="url(#jet)"><rect x="476.7" y="65.8" width="106.2" height="112.6" fill="#000" fill-opacity="0"/><ellipse cx="543.70" cy="98.80" rx="24.00" ry="18.00" fill="url(#gau)" opacity="0.580"/><ellipse cx="552.70" cy="102.80" rx="24.00" ry="22.50" fill="url(#gau)" opacity="0.580"/><ellipse cx="550.70" cy="123.80" rx="16.50" ry="30.00" fill="url(#gau)" opacity="0.340"/><ellipse cx="554.20" cy="153.80" rx="20.70" ry="45.00" fill="url(#gau)" opacity="1.000"/><ellipse cx="554.20" cy="153.80" rx="10.50" ry="21.00" fill="url(#gau)" opacity="0.600"/></g></g></g><line x1="524.5" y1="65.8" x2="524.5" y2="178.39999999999998" stroke="#333" stroke-width="0.9"/><line x1="476.7" y1="131.6" x2="582.9" y2="131.6" stroke="#333" stroke-width="0.9"/><path d="M476.7,65.8H582.9V178.39999999999998" fill="none" stroke="#000" stroke-width="1.6"/><path d="M476.7,65.1V178.39999999999998H583.6" fill="none" stroke="#000" stroke-width="1.9"/><text x="483.0" y="82.69999999999999" font-size="17.5">32.3</text><text x="483.0" y="172.7" font-size="17.5">66.7</text><line x1="115.2" y1="75.2" x2="119.2" y2="75.2" stroke="#555" stroke-width="0.8"/><text x="111.7" y="81.2" font-size="13" text-anchor="end">10<tspan font-size="9.3" dy="-5.5">5</tspan></text><line x1="115.2" y1="100.5" x2="119.2" y2="100.5" stroke="#555" stroke-width="0.8"/><text x="111.7" y="106.5" font-size="13" text-anchor="end">10<tspan font-size="9.3" dy="-5.5">4</tspan></text><line x1="115.2" y1="125.8" x2="119.2" y2="125.8" stroke="#555" stroke-width="0.8"/><text x="111.7" y="131.8" font-size="13" text-anchor="end">10<tspan font-size="9.3" dy="-5.5">3</tspan></text><line x1="115.2" y1="151.1" x2="119.2" y2="151.1" stroke="#555" stroke-width="0.8"/><text x="111.7" y="157.1" font-size="13" text-anchor="end">10<tspan font-size="9.3" dy="-5.5">2</tspan></text><line x1="115.2" y1="165.8" x2="119.2" y2="165.8" stroke="#555" stroke-width="0.8"/><text x="111.7" y="172.0" font-size="13" text-anchor="end">0</text><line x1="117.2" y1="143.5" x2="119.2" y2="143.5" stroke="#888" stroke-width="0.6"/><line x1="117.2" y1="139.0" x2="119.2" y2="139.0" stroke="#888" stroke-width="0.6"/><line x1="117.2" y1="135.9" x2="119.2" y2="135.9" stroke="#888" stroke-width="0.6"/><line x1="117.2" y1="133.4" x2="119.2" y2="133.4" stroke="#888" stroke-width="0.6"/><line x1="117.2" y1="131.4" x2="119.2" y2="131.4" stroke="#888" stroke-width="0.6"/><line x1="117.2" y1="129.7" x2="119.2" y2="129.7" stroke="#888" stroke-width="0.6"/><line x1="117.2" y1="128.3" x2="119.2" y2="128.3" stroke="#888" stroke-width="0.6"/><line x1="117.2" y1="127.0" x2="119.2" y2="127.0" stroke="#888" stroke-width="0.6"/><line x1="117.2" y1="118.2" x2="119.2" y2="118.2" stroke="#888" stroke-width="0.6"/><line x1="117.2" y1="113.7" x2="119.2" y2="113.7" stroke="#888" stroke-width="0.6"/><line x1="117.2" y1="110.6" x2="119.2" y2="110.6" stroke="#888" stroke-width="0.6"/><line x1="117.2" y1="108.1" x2="119.2" y2="108.1" stroke="#888" stroke-width="0.6"/><line x1="117.2" y1="106.1" x2="119.2" y2="106.1" stroke="#888" stroke-width="0.6"/><line x1="117.2" y1="104.4" x2="119.2" y2="104.4" stroke="#888" stroke-width="0.6"/><line x1="117.2" y1="103.0" x2="119.2" y2="103.0" stroke="#888" stroke-width="0.6"/><line x1="117.2" y1="101.7" x2="119.2" y2="101.7" stroke="#888" stroke-width="0.6"/><line x1="117.2" y1="92.9" x2="119.2" y2="92.9" stroke="#888" stroke-width="0.6"/><line x1="117.2" y1="88.4" x2="119.2" y2="88.4" stroke="#888" stroke-width="0.6"/><line x1="117.2" y1="85.3" x2="119.2" y2="85.3" stroke="#888" stroke-width="0.6"/><line x1="117.2" y1="82.8" x2="119.2" y2="82.8" stroke="#888" stroke-width="0.6"/><line x1="117.2" y1="80.8" x2="119.2" y2="80.8" stroke="#888" stroke-width="0.6"/><line x1="117.2" y1="79.1" x2="119.2" y2="79.1" stroke="#888" stroke-width="0.6"/><line x1="117.2" y1="77.7" x2="119.2" y2="77.7" stroke="#888" stroke-width="0.6"/><line x1="117.2" y1="76.4" x2="119.2" y2="76.4" stroke="#888" stroke-width="0.6"/><text x="122.4" y="197.39999999999998" font-size="12.8" text-anchor="middle">0</text><line x1="122.4" y1="178.39999999999998" x2="122.4" y2="181.89999999999998" stroke="#555" stroke-width="0.8"/><text x="141.3" y="197.39999999999998" font-size="12.8" text-anchor="middle" letter-spacing="-0.3">10<tspan font-size="9" dy="-5.5">2</tspan></text><line x1="141.0" y1="178.39999999999998" x2="141.0" y2="181.89999999999998" stroke="#555" stroke-width="0.8"/><text x="167.0" y="197.39999999999998" font-size="12.8" text-anchor="middle" letter-spacing="-0.3">10<tspan font-size="9" dy="-5.5">3</tspan></text><line x1="166.7" y1="178.39999999999998" x2="166.7" y2="181.89999999999998" stroke="#555" stroke-width="0.8"/><text x="192.5" y="197.39999999999998" font-size="12.8" text-anchor="middle" letter-spacing="-0.3">10<tspan font-size="9" dy="-5.5">4</tspan></text><line x1="192.2" y1="178.39999999999998" x2="192.2" y2="181.89999999999998" stroke="#555" stroke-width="0.8"/><text x="218.5" y="197.39999999999998" font-size="12.8" text-anchor="middle" letter-spacing="-0.3">10<tspan font-size="9" dy="-5.5">5</tspan></text><line x1="218.2" y1="178.39999999999998" x2="218.2" y2="181.89999999999998" stroke="#555" stroke-width="0.8"/><line x1="148.7" y1="178.39999999999998" x2="148.7" y2="180.39999999999998" stroke="#999" stroke-width="0.6"/><line x1="153.3" y1="178.39999999999998" x2="153.3" y2="180.39999999999998" stroke="#999" stroke-width="0.6"/><line x1="156.5" y1="178.39999999999998" x2="156.5" y2="180.39999999999998" stroke="#999" stroke-width="0.6"/><line x1="159.0" y1="178.39999999999998" x2="159.0" y2="180.39999999999998" stroke="#999" stroke-width="0.6"/><line x1="161.0" y1="178.39999999999998" x2="161.0" y2="180.39999999999998" stroke="#999" stroke-width="0.6"/><line x1="162.7" y1="178.39999999999998" x2="162.7" y2="180.39999999999998" stroke="#999" stroke-width="0.6"/><line x1="164.2" y1="178.39999999999998" x2="164.2" y2="180.39999999999998" stroke="#999" stroke-width="0.6"/><line x1="165.5" y1="178.39999999999998" x2="165.5" y2="180.39999999999998" stroke="#999" stroke-width="0.6"/><line x1="174.4" y1="178.39999999999998" x2="174.4" y2="180.39999999999998" stroke="#999" stroke-width="0.6"/><line x1="179.0" y1="178.39999999999998" x2="179.0" y2="180.39999999999998" stroke="#999" stroke-width="0.6"/><line x1="182.2" y1="178.39999999999998" x2="182.2" y2="180.39999999999998" stroke="#999" stroke-width="0.6"/><line x1="184.7" y1="178.39999999999998" x2="184.7" y2="180.39999999999998" stroke="#999" stroke-width="0.6"/><line x1="186.7" y1="178.39999999999998" x2="186.7" y2="180.39999999999998" stroke="#999" stroke-width="0.6"/><line x1="188.4" y1="178.39999999999998" x2="188.4" y2="180.39999999999998" stroke="#999" stroke-width="0.6"/><line x1="189.9" y1="178.39999999999998" x2="189.9" y2="180.39999999999998" stroke="#999" stroke-width="0.6"/><line x1="191.2" y1="178.39999999999998" x2="191.2" y2="180.39999999999998" stroke="#999" stroke-width="0.6"/><line x1="200.1" y1="178.39999999999998" x2="200.1" y2="180.39999999999998" stroke="#999" stroke-width="0.6"/><line x1="204.7" y1="178.39999999999998" x2="204.7" y2="180.39999999999998" stroke="#999" stroke-width="0.6"/><line x1="207.9" y1="178.39999999999998" x2="207.9" y2="180.39999999999998" stroke="#999" stroke-width="0.6"/><line x1="210.4" y1="178.39999999999998" x2="210.4" y2="180.39999999999998" stroke="#999" stroke-width="0.6"/><line x1="212.4" y1="178.39999999999998" x2="212.4" y2="180.39999999999998" stroke="#999" stroke-width="0.6"/><line x1="214.1" y1="178.39999999999998" x2="214.1" y2="180.39999999999998" stroke="#999" stroke-width="0.6"/><line x1="215.6" y1="178.39999999999998" x2="215.6" y2="180.39999999999998" stroke="#999" stroke-width="0.6"/><line x1="216.9" y1="178.39999999999998" x2="216.9" y2="180.39999999999998" stroke="#999" stroke-width="0.6"/><line x1="268.4" y1="178.39999999999998" x2="268.4" y2="180.39999999999998" stroke="#999" stroke-width="0.6"/><line x1="273.0" y1="178.39999999999998" x2="273.0" y2="180.39999999999998" stroke="#999" stroke-width="0.6"/><line x1="276.2" y1="178.39999999999998" x2="276.2" y2="180.39999999999998" stroke="#999" stroke-width="0.6"/><line x1="278.7" y1="178.39999999999998" x2="278.7" y2="180.39999999999998" stroke="#999" stroke-width="0.6"/><line x1="280.7" y1="178.39999999999998" x2="280.7" y2="180.39999999999998" stroke="#999" stroke-width="0.6"/><line x1="282.4" y1="178.39999999999998" x2="282.4" y2="180.39999999999998" stroke="#999" stroke-width="0.6"/><line x1="283.9" y1="178.39999999999998" x2="283.9" y2="180.39999999999998" stroke="#999" stroke-width="0.6"/><line x1="285.2" y1="178.39999999999998" x2="285.2" y2="180.39999999999998" stroke="#999" stroke-width="0.6"/><line x1="294.1" y1="178.39999999999998" x2="294.1" y2="180.39999999999998" stroke="#999" stroke-width="0.6"/><line x1="298.7" y1="178.39999999999998" x2="298.7" y2="180.39999999999998" stroke="#999" stroke-width="0.6"/><line x1="301.9" y1="178.39999999999998" x2="301.9" y2="180.39999999999998" stroke="#999" stroke-width="0.6"/><line x1="304.4" y1="178.39999999999998" x2="304.4" y2="180.39999999999998" stroke="#999" stroke-width="0.6"/><line x1="306.4" y1="178.39999999999998" x2="306.4" y2="180.39999999999998" stroke="#999" stroke-width="0.6"/><line x1="308.1" y1="178.39999999999998" x2="308.1" y2="180.39999999999998" stroke="#999" stroke-width="0.6"/><line x1="309.6" y1="178.39999999999998" x2="309.6" y2="180.39999999999998" stroke="#999" stroke-width="0.6"/><line x1="310.9" y1="178.39999999999998" x2="310.9" y2="180.39999999999998" stroke="#999" stroke-width="0.6"/><line x1="319.8" y1="178.39999999999998" x2="319.8" y2="180.39999999999998" stroke="#999" stroke-width="0.6"/><line x1="324.4" y1="178.39999999999998" x2="324.4" y2="180.39999999999998" stroke="#999" stroke-width="0.6"/><line x1="327.6" y1="178.39999999999998" x2="327.6" y2="180.39999999999998" stroke="#999" stroke-width="0.6"/><line x1="330.1" y1="178.39999999999998" x2="330.1" y2="180.39999999999998" stroke="#999" stroke-width="0.6"/><line x1="332.1" y1="178.39999999999998" x2="332.1" y2="180.39999999999998" stroke="#999" stroke-width="0.6"/><line x1="333.8" y1="178.39999999999998" x2="333.8" y2="180.39999999999998" stroke="#999" stroke-width="0.6"/><line x1="335.3" y1="178.39999999999998" x2="335.3" y2="180.39999999999998" stroke="#999" stroke-width="0.6"/><line x1="336.6" y1="178.39999999999998" x2="336.6" y2="180.39999999999998" stroke="#999" stroke-width="0.6"/><line x1="242.1" y1="178.39999999999998" x2="242.1" y2="181.39999999999998" stroke="#777" stroke-width="0.7"/><line x1="260.7" y1="178.39999999999998" x2="260.7" y2="181.39999999999998" stroke="#777" stroke-width="0.7"/><line x1="286.4" y1="178.39999999999998" x2="286.4" y2="181.39999999999998" stroke="#777" stroke-width="0.7"/><line x1="311.9" y1="178.39999999999998" x2="311.9" y2="181.39999999999998" stroke="#777" stroke-width="0.7"/><line x1="337.9" y1="178.39999999999998" x2="337.9" y2="181.39999999999998" stroke="#777" stroke-width="0.7"/><line x1="235.9" y1="75.2" x2="238.9" y2="75.2" stroke="#777" stroke-width="0.7"/><line x1="235.9" y1="100.5" x2="238.9" y2="100.5" stroke="#777" stroke-width="0.7"/><line x1="235.9" y1="125.8" x2="238.9" y2="125.8" stroke="#777" stroke-width="0.7"/><line x1="235.9" y1="151.1" x2="238.9" y2="151.1" stroke="#777" stroke-width="0.7"/><line x1="235.9" y1="165.8" x2="238.9" y2="165.8" stroke="#777" stroke-width="0.7"/><line x1="387.3" y1="178.39999999999998" x2="387.3" y2="180.39999999999998" stroke="#999" stroke-width="0.6"/><line x1="391.9" y1="178.39999999999998" x2="391.9" y2="180.39999999999998" stroke="#999" stroke-width="0.6"/><line x1="395.1" y1="178.39999999999998" x2="395.1" y2="180.39999999999998" stroke="#999" stroke-width="0.6"/><line x1="397.6" y1="178.39999999999998" x2="397.6" y2="180.39999999999998" stroke="#999" stroke-width="0.6"/><line x1="399.6" y1="178.39999999999998" x2="399.6" y2="180.39999999999998" stroke="#999" stroke-width="0.6"/><line x1="401.3" y1="178.39999999999998" x2="401.3" y2="180.39999999999998" stroke="#999" stroke-width="0.6"/><line x1="402.8" y1="178.39999999999998" x2="402.8" y2="180.39999999999998" stroke="#999" stroke-width="0.6"/><line x1="404.1" y1="178.39999999999998" x2="404.1" y2="180.39999999999998" stroke="#999" stroke-width="0.6"/><line x1="413.0" y1="178.39999999999998" x2="413.0" y2="180.39999999999998" stroke="#999" stroke-width="0.6"/><line x1="417.6" y1="178.39999999999998" x2="417.6" y2="180.39999999999998" stroke="#999" stroke-width="0.6"/><line x1="420.8" y1="178.39999999999998" x2="420.8" y2="180.39999999999998" stroke="#999" stroke-width="0.6"/><line x1="423.3" y1="178.39999999999998" x2="423.3" y2="180.39999999999998" stroke="#999" stroke-width="0.6"/><line x1="425.3" y1="178.39999999999998" x2="425.3" y2="180.39999999999998" stroke="#999" stroke-width="0.6"/><line x1="427.0" y1="178.39999999999998" x2="427.0" y2="180.39999999999998" stroke="#999" stroke-width="0.6"/><line x1="428.5" y1="178.39999999999998" x2="428.5" y2="180.39999999999998" stroke="#999" stroke-width="0.6"/><line x1="429.8" y1="178.39999999999998" x2="429.8" y2="180.39999999999998" stroke="#999" stroke-width="0.6"/><line x1="438.7" y1="178.39999999999998" x2="438.7" y2="180.39999999999998" stroke="#999" stroke-width="0.6"/><line x1="443.3" y1="178.39999999999998" x2="443.3" y2="180.39999999999998" stroke="#999" stroke-width="0.6"/><line x1="446.5" y1="178.39999999999998" x2="446.5" y2="180.39999999999998" stroke="#999" stroke-width="0.6"/><line x1="449.0" y1="178.39999999999998" x2="449.0" y2="180.39999999999998" stroke="#999" stroke-width="0.6"/><line x1="451.0" y1="178.39999999999998" x2="451.0" y2="180.39999999999998" stroke="#999" stroke-width="0.6"/><line x1="452.7" y1="178.39999999999998" x2="452.7" y2="180.39999999999998" stroke="#999" stroke-width="0.6"/><line x1="454.2" y1="178.39999999999998" x2="454.2" y2="180.39999999999998" stroke="#999" stroke-width="0.6"/><line x1="455.5" y1="178.39999999999998" x2="455.5" y2="180.39999999999998" stroke="#999" stroke-width="0.6"/><line x1="361.0" y1="178.39999999999998" x2="361.0" y2="181.39999999999998" stroke="#777" stroke-width="0.7"/><line x1="379.6" y1="178.39999999999998" x2="379.6" y2="181.39999999999998" stroke="#777" stroke-width="0.7"/><line x1="405.3" y1="178.39999999999998" x2="405.3" y2="181.39999999999998" stroke="#777" stroke-width="0.7"/><line x1="430.8" y1="178.39999999999998" x2="430.8" y2="181.39999999999998" stroke="#777" stroke-width="0.7"/><line x1="456.8" y1="178.39999999999998" x2="456.8" y2="181.39999999999998" stroke="#777" stroke-width="0.7"/><line x1="354.8" y1="75.2" x2="357.8" y2="75.2" stroke="#777" stroke-width="0.7"/><line x1="354.8" y1="100.5" x2="357.8" y2="100.5" stroke="#777" stroke-width="0.7"/><line x1="354.8" y1="125.8" x2="357.8" y2="125.8" stroke="#777" stroke-width="0.7"/><line x1="354.8" y1="151.1" x2="357.8" y2="151.1" stroke="#777" stroke-width="0.7"/><line x1="354.8" y1="165.8" x2="357.8" y2="165.8" stroke="#777" stroke-width="0.7"/><line x1="506.2" y1="178.39999999999998" x2="506.2" y2="180.39999999999998" stroke="#999" stroke-width="0.6"/><line x1="510.8" y1="178.39999999999998" x2="510.8" y2="180.39999999999998" stroke="#999" stroke-width="0.6"/><line x1="514.0" y1="178.39999999999998" x2="514.0" y2="180.39999999999998" stroke="#999" stroke-width="0.6"/><line x1="516.5" y1="178.39999999999998" x2="516.5" y2="180.39999999999998" stroke="#999" stroke-width="0.6"/><line x1="518.5" y1="178.39999999999998" x2="518.5" y2="180.39999999999998" stroke="#999" stroke-width="0.6"/><line x1="520.2" y1="178.39999999999998" x2="520.2" y2="180.39999999999998" stroke="#999" stroke-width="0.6"/><line x1="521.7" y1="178.39999999999998" x2="521.7" y2="180.39999999999998" stroke="#999" stroke-width="0.6"/><line x1="523.0" y1="178.39999999999998" x2="523.0" y2="180.39999999999998" stroke="#999" stroke-width="0.6"/><line x1="531.9" y1="178.39999999999998" x2="531.9" y2="180.39999999999998" stroke="#999" stroke-width="0.6"/><line x1="536.5" y1="178.39999999999998" x2="536.5" y2="180.39999999999998" stroke="#999" stroke-width="0.6"/><line x1="539.7" y1="178.39999999999998" x2="539.7" y2="180.39999999999998" stroke="#999" stroke-width="0.6"/><line x1="542.2" y1="178.39999999999998" x2="542.2" y2="180.39999999999998" stroke="#999" stroke-width="0.6"/><line x1="544.2" y1="178.39999999999998" x2="544.2" y2="180.39999999999998" stroke="#999" stroke-width="0.6"/><line x1="545.9" y1="178.39999999999998" x2="545.9" y2="180.39999999999998" stroke="#999" stroke-width="0.6"/><line x1="547.4" y1="178.39999999999998" x2="547.4" y2="180.39999999999998" stroke="#999" stroke-width="0.6"/><line x1="548.7" y1="178.39999999999998" x2="548.7" y2="180.39999999999998" stroke="#999" stroke-width="0.6"/><line x1="557.6" y1="178.39999999999998" x2="557.6" y2="180.39999999999998" stroke="#999" stroke-width="0.6"/><line x1="562.2" y1="178.39999999999998" x2="562.2" y2="180.39999999999998" stroke="#999" stroke-width="0.6"/><line x1="565.4" y1="178.39999999999998" x2="565.4" y2="180.39999999999998" stroke="#999" stroke-width="0.6"/><line x1="567.9" y1="178.39999999999998" x2="567.9" y2="180.39999999999998" stroke="#999" stroke-width="0.6"/><line x1="569.9" y1="178.39999999999998" x2="569.9" y2="180.39999999999998" stroke="#999" stroke-width="0.6"/><line x1="571.6" y1="178.39999999999998" x2="571.6" y2="180.39999999999998" stroke="#999" stroke-width="0.6"/><line x1="573.1" y1="178.39999999999998" x2="573.1" y2="180.39999999999998" stroke="#999" stroke-width="0.6"/><line x1="574.4" y1="178.39999999999998" x2="574.4" y2="180.39999999999998" stroke="#999" stroke-width="0.6"/><line x1="479.9" y1="178.39999999999998" x2="479.9" y2="181.39999999999998" stroke="#777" stroke-width="0.7"/><line x1="498.5" y1="178.39999999999998" x2="498.5" y2="181.39999999999998" stroke="#777" stroke-width="0.7"/><line x1="524.2" y1="178.39999999999998" x2="524.2" y2="181.39999999999998" stroke="#777" stroke-width="0.7"/><line x1="549.7" y1="178.39999999999998" x2="549.7" y2="181.39999999999998" stroke="#777" stroke-width="0.7"/><line x1="575.7" y1="178.39999999999998" x2="575.7" y2="181.39999999999998" stroke="#777" stroke-width="0.7"/><line x1="473.7" y1="75.2" x2="476.7" y2="75.2" stroke="#777" stroke-width="0.7"/><line x1="473.7" y1="100.5" x2="476.7" y2="100.5" stroke="#777" stroke-width="0.7"/><line x1="473.7" y1="125.8" x2="476.7" y2="125.8" stroke="#777" stroke-width="0.7"/><line x1="473.7" y1="151.1" x2="476.7" y2="151.1" stroke="#777" stroke-width="0.7"/><line x1="473.7" y1="165.8" x2="476.7" y2="165.8" stroke="#777" stroke-width="0.7"/><g clip-path="url(#bx10)"><g clip-path="url(#cl10)"><g filter="url(#jet)"><rect x="119.2" y="211.0" width="107.1" height="113.3" fill="#000" fill-opacity="0"/><ellipse cx="188.20" cy="253.00" rx="24.00" ry="30.00" fill="url(#gau)" opacity="1.000"/><ellipse cx="188.20" cy="253.00" rx="13.50" ry="19.50" fill="url(#gau)" opacity="0.600"/><ellipse cx="187.70" cy="243.00" rx="33.00" ry="13.50" fill="url(#gau)" opacity="0.550"/><ellipse cx="187.20" cy="266.00" rx="15.00" ry="24.00" fill="url(#gau)" opacity="0.420"/><ellipse cx="178.20" cy="247.00" rx="15.00" ry="13.50" fill="url(#gau)" opacity="0.330"/><ellipse cx="191.70" cy="293.00" rx="24.84" ry="42.00" fill="url(#gau)" opacity="0.880"/><ellipse cx="159.20" cy="251.00" rx="15.00" ry="15.00" fill="url(#gau)" opacity="0.120"/></g></g></g><line x1="166.6" y1="211.0" x2="166.6" y2="324.3" stroke="#333" stroke-width="0.9"/><line x1="119.2" y1="276.8" x2="226.3" y2="276.8" stroke="#333" stroke-width="0.9"/><path d="M119.2,211.0H226.3V324.3" fill="none" stroke="#000" stroke-width="1.6"/><path d="M118.3,210.3V324.3H227.0" fill="none" stroke="#000" stroke-width="1.9"/><path d="M117.8,211.0H120.2" fill="none" stroke="#000" stroke-width="1.6"/><text x="122.7" y="231.2" font-size="17.5">57.9</text><text x="122.7" y="317.7" font-size="17.5">39.5</text><g clip-path="url(#bx11)"><g clip-path="url(#cl11)"><g filter="url(#jet)"><rect x="238.9" y="211.0" width="107" height="113.3" fill="#000" fill-opacity="0"/><ellipse cx="306.40" cy="253.00" rx="24.00" ry="30.00" fill="url(#gau)" opacity="1.000"/><ellipse cx="306.40" cy="253.00" rx="13.50" ry="19.50" fill="url(#gau)" opacity="0.600"/><ellipse cx="305.90" cy="243.00" rx="33.00" ry="13.50" fill="url(#gau)" opacity="0.550"/><ellipse cx="305.40" cy="266.00" rx="15.00" ry="24.00" fill="url(#gau)" opacity="0.420"/><ellipse cx="296.40" cy="247.00" rx="15.00" ry="13.50" fill="url(#gau)" opacity="0.330"/><ellipse cx="308.40" cy="293.00" rx="24.84" ry="42.00" fill="url(#gau)" opacity="0.700"/></g></g></g><line x1="286.5" y1="211.0" x2="286.5" y2="324.3" stroke="#333" stroke-width="0.9"/><line x1="238.9" y1="276.8" x2="345.9" y2="276.8" stroke="#333" stroke-width="0.9"/><path d="M238.9,211.0H345.9V324.3" fill="none" stroke="#000" stroke-width="1.6"/><path d="M238.9,210.3V324.3H346.59999999999997" fill="none" stroke="#000" stroke-width="1.9"/><text x="242.4" y="231.2" font-size="17.5">62</text><text x="242.4" y="317.7" font-size="17.5">35.2</text><g clip-path="url(#bx12)"><g clip-path="url(#cl12)"><g filter="url(#jet)"><rect x="357.8" y="211.0" width="107.4" height="113.3" fill="#000" fill-opacity="0"/><ellipse cx="426.80" cy="254.00" rx="24.00" ry="30.00" fill="url(#gau)" opacity="1.000"/><ellipse cx="426.80" cy="254.00" rx="13.50" ry="19.50" fill="url(#gau)" opacity="0.600"/><ellipse cx="426.30" cy="244.00" rx="33.00" ry="13.50" fill="url(#gau)" opacity="0.550"/><ellipse cx="425.80" cy="267.00" rx="15.00" ry="24.00" fill="url(#gau)" opacity="0.420"/><ellipse cx="416.80" cy="248.00" rx="15.00" ry="13.50" fill="url(#gau)" opacity="0.330"/><ellipse cx="432.30" cy="292.00" rx="24.84" ry="42.00" fill="url(#gau)" opacity="0.720"/></g></g></g><line x1="406.6" y1="211.0" x2="406.6" y2="324.3" stroke="#333" stroke-width="0.9"/><line x1="357.8" y1="276.8" x2="465.20000000000005" y2="276.8" stroke="#333" stroke-width="0.9"/><path d="M357.8,211.0H465.20000000000005V324.3" fill="none" stroke="#000" stroke-width="1.6"/><path d="M357.8,210.3V324.3H465.90000000000003" fill="none" stroke="#000" stroke-width="1.9"/><text x="365.1" y="231.2" font-size="17.5">61.8</text><text x="365.1" y="317.7" font-size="17.5">35.2</text><g clip-path="url(#bx13)"><g clip-path="url(#cl13)"><g filter="url(#jet)"><rect x="476.7" y="211.0" width="106.2" height="113.3" fill="#000" fill-opacity="0"/><ellipse cx="542.20" cy="255.00" rx="24.00" ry="30.00" fill="url(#gau)" opacity="1.000"/><ellipse cx="542.20" cy="255.00" rx="13.50" ry="19.50" fill="url(#gau)" opacity="0.600"/><ellipse cx="541.70" cy="245.00" rx="33.00" ry="13.50" fill="url(#gau)" opacity="0.550"/><ellipse cx="541.20" cy="268.00" rx="15.00" ry="24.00" fill="url(#gau)" opacity="0.420"/><ellipse cx="532.20" cy="249.00" rx="15.00" ry="13.50" fill="url(#gau)" opacity="0.330"/><ellipse cx="547.70" cy="293.00" rx="24.84" ry="42.00" fill="url(#gau)" opacity="0.580"/><ellipse cx="514.70" cy="256.00" rx="15.00" ry="18.00" fill="url(#gau)" opacity="0.140"/></g></g></g><line x1="524.5" y1="211.0" x2="524.5" y2="324.3" stroke="#333" stroke-width="0.9"/><line x1="476.7" y1="276.8" x2="582.9" y2="276.8" stroke="#333" stroke-width="0.9"/><path d="M476.7,211.0H582.9V324.3" fill="none" stroke="#000" stroke-width="1.6"/><path d="M476.7,210.3V324.3H583.6" fill="none" stroke="#000" stroke-width="1.9"/><text x="483.0" y="231.2" font-size="17.5">63.8</text><text x="483.0" y="317.7" font-size="17.5">31.4</text><line x1="115.2" y1="220.4" x2="119.2" y2="220.4" stroke="#555" stroke-width="0.8"/><text x="111.7" y="227.9" font-size="13" text-anchor="end">10<tspan font-size="9.3" dy="-5.5">5</tspan></text><line x1="115.2" y1="245.7" x2="119.2" y2="245.7" stroke="#555" stroke-width="0.8"/><text x="111.7" y="253.2" font-size="13" text-anchor="end">10<tspan font-size="9.3" dy="-5.5">4</tspan></text><line x1="115.2" y1="271.0" x2="119.2" y2="271.0" stroke="#555" stroke-width="0.8"/><text x="111.7" y="278.5" font-size="13" text-anchor="end">10<tspan font-size="9.3" dy="-5.5">3</tspan></text><line x1="115.2" y1="296.3" x2="119.2" y2="296.3" stroke="#555" stroke-width="0.8"/><text x="111.7" y="303.8" font-size="13" text-anchor="end">10<tspan font-size="9.3" dy="-5.5">2</tspan></text><line x1="115.2" y1="311.0" x2="119.2" y2="311.0" stroke="#555" stroke-width="0.8"/><text x="111.7" y="318.7" font-size="13" text-anchor="end">0</text><line x1="117.2" y1="288.7" x2="119.2" y2="288.7" stroke="#888" stroke-width="0.6"/><line x1="117.2" y1="284.2" x2="119.2" y2="284.2" stroke="#888" stroke-width="0.6"/><line x1="117.2" y1="281.1" x2="119.2" y2="281.1" stroke="#888" stroke-width="0.6"/><line x1="117.2" y1="278.6" x2="119.2" y2="278.6" stroke="#888" stroke-width="0.6"/><line x1="117.2" y1="276.6" x2="119.2" y2="276.6" stroke="#888" stroke-width="0.6"/><line x1="117.2" y1="274.9" x2="119.2" y2="274.9" stroke="#888" stroke-width="0.6"/><line x1="117.2" y1="273.5" x2="119.2" y2="273.5" stroke="#888" stroke-width="0.6"/><line x1="117.2" y1="272.2" x2="119.2" y2="272.2" stroke="#888" stroke-width="0.6"/><line x1="117.2" y1="263.4" x2="119.2" y2="263.4" stroke="#888" stroke-width="0.6"/><line x1="117.2" y1="258.9" x2="119.2" y2="258.9" stroke="#888" stroke-width="0.6"/><line x1="117.2" y1="255.8" x2="119.2" y2="255.8" stroke="#888" stroke-width="0.6"/><line x1="117.2" y1="253.3" x2="119.2" y2="253.3" stroke="#888" stroke-width="0.6"/><line x1="117.2" y1="251.3" x2="119.2" y2="251.3" stroke="#888" stroke-width="0.6"/><line x1="117.2" y1="249.6" x2="119.2" y2="249.6" stroke="#888" stroke-width="0.6"/><line x1="117.2" y1="248.2" x2="119.2" y2="248.2" stroke="#888" stroke-width="0.6"/><line x1="117.2" y1="246.9" x2="119.2" y2="246.9" stroke="#888" stroke-width="0.6"/><line x1="117.2" y1="238.1" x2="119.2" y2="238.1" stroke="#888" stroke-width="0.6"/><line x1="117.2" y1="233.6" x2="119.2" y2="233.6" stroke="#888" stroke-width="0.6"/><line x1="117.2" y1="230.5" x2="119.2" y2="230.5" stroke="#888" stroke-width="0.6"/><line x1="117.2" y1="228.0" x2="119.2" y2="228.0" stroke="#888" stroke-width="0.6"/><line x1="117.2" y1="226.0" x2="119.2" y2="226.0" stroke="#888" stroke-width="0.6"/><line x1="117.2" y1="224.3" x2="119.2" y2="224.3" stroke="#888" stroke-width="0.6"/><line x1="117.2" y1="222.9" x2="119.2" y2="222.9" stroke="#888" stroke-width="0.6"/><line x1="117.2" y1="221.6" x2="119.2" y2="221.6" stroke="#888" stroke-width="0.6"/><text x="122.4" y="345.3" font-size="12.8" text-anchor="middle">0</text><line x1="122.4" y1="324.3" x2="122.4" y2="327.8" stroke="#555" stroke-width="0.8"/><text x="141.3" y="345.3" font-size="12.8" text-anchor="middle" letter-spacing="-0.3">10<tspan font-size="9" dy="-5.5">2</tspan></text><line x1="141.0" y1="324.3" x2="141.0" y2="327.8" stroke="#555" stroke-width="0.8"/><text x="167.0" y="345.3" font-size="12.8" text-anchor="middle" letter-spacing="-0.3">10<tspan font-size="9" dy="-5.5">3</tspan></text><line x1="166.7" y1="324.3" x2="166.7" y2="327.8" stroke="#555" stroke-width="0.8"/><text x="192.5" y="345.3" font-size="12.8" text-anchor="middle" letter-spacing="-0.3">10<tspan font-size="9" dy="-5.5">4</tspan></text><line x1="192.2" y1="324.3" x2="192.2" y2="327.8" stroke="#555" stroke-width="0.8"/><text x="218.5" y="345.3" font-size="12.8" text-anchor="middle" letter-spacing="-0.3">10<tspan font-size="9" dy="-5.5">5</tspan></text><line x1="218.2" y1="324.3" x2="218.2" y2="327.8" stroke="#555" stroke-width="0.8"/><line x1="148.7" y1="324.3" x2="148.7" y2="326.3" stroke="#999" stroke-width="0.6"/><line x1="153.3" y1="324.3" x2="153.3" y2="326.3" stroke="#999" stroke-width="0.6"/><line x1="156.5" y1="324.3" x2="156.5" y2="326.3" stroke="#999" stroke-width="0.6"/><line x1="159.0" y1="324.3" x2="159.0" y2="326.3" stroke="#999" stroke-width="0.6"/><line x1="161.0" y1="324.3" x2="161.0" y2="326.3" stroke="#999" stroke-width="0.6"/><line x1="162.7" y1="324.3" x2="162.7" y2="326.3" stroke="#999" stroke-width="0.6"/><line x1="164.2" y1="324.3" x2="164.2" y2="326.3" stroke="#999" stroke-width="0.6"/><line x1="165.5" y1="324.3" x2="165.5" y2="326.3" stroke="#999" stroke-width="0.6"/><line x1="174.4" y1="324.3" x2="174.4" y2="326.3" stroke="#999" stroke-width="0.6"/><line x1="179.0" y1="324.3" x2="179.0" y2="326.3" stroke="#999" stroke-width="0.6"/><line x1="182.2" y1="324.3" x2="182.2" y2="326.3" stroke="#999" stroke-width="0.6"/><line x1="184.7" y1="324.3" x2="184.7" y2="326.3" stroke="#999" stroke-width="0.6"/><line x1="186.7" y1="324.3" x2="186.7" y2="326.3" stroke="#999" stroke-width="0.6"/><line x1="188.4" y1="324.3" x2="188.4" y2="326.3" stroke="#999" stroke-width="0.6"/><line x1="189.9" y1="324.3" x2="189.9" y2="326.3" stroke="#999" stroke-width="0.6"/><line x1="191.2" y1="324.3" x2="191.2" y2="326.3" stroke="#999" stroke-width="0.6"/><line x1="200.1" y1="324.3" x2="200.1" y2="326.3" stroke="#999" stroke-width="0.6"/><line x1="204.7" y1="324.3" x2="204.7" y2="326.3" stroke="#999" stroke-width="0.6"/><line x1="207.9" y1="324.3" x2="207.9" y2="326.3" stroke="#999" stroke-width="0.6"/><line x1="210.4" y1="324.3" x2="210.4" y2="326.3" stroke="#999" stroke-width="0.6"/><line x1="212.4" y1="324.3" x2="212.4" y2="326.3" stroke="#999" stroke-width="0.6"/><line x1="214.1" y1="324.3" x2="214.1" y2="326.3" stroke="#999" stroke-width="0.6"/><line x1="215.6" y1="324.3" x2="215.6" y2="326.3" stroke="#999" stroke-width="0.6"/><line x1="216.9" y1="324.3" x2="216.9" y2="326.3" stroke="#999" stroke-width="0.6"/><line x1="268.4" y1="324.3" x2="268.4" y2="326.3" stroke="#999" stroke-width="0.6"/><line x1="273.0" y1="324.3" x2="273.0" y2="326.3" stroke="#999" stroke-width="0.6"/><line x1="276.2" y1="324.3" x2="276.2" y2="326.3" stroke="#999" stroke-width="0.6"/><line x1="278.7" y1="324.3" x2="278.7" y2="326.3" stroke="#999" stroke-width="0.6"/><line x1="280.7" y1="324.3" x2="280.7" y2="326.3" stroke="#999" stroke-width="0.6"/><line x1="282.4" y1="324.3" x2="282.4" y2="326.3" stroke="#999" stroke-width="0.6"/><line x1="283.9" y1="324.3" x2="283.9" y2="326.3" stroke="#999" stroke-width="0.6"/><line x1="285.2" y1="324.3" x2="285.2" y2="326.3" stroke="#999" stroke-width="0.6"/><line x1="294.1" y1="324.3" x2="294.1" y2="326.3" stroke="#999" stroke-width="0.6"/><line x1="298.7" y1="324.3" x2="298.7" y2="326.3" stroke="#999" stroke-width="0.6"/><line x1="301.9" y1="324.3" x2="301.9" y2="326.3" stroke="#999" stroke-width="0.6"/><line x1="304.4" y1="324.3" x2="304.4" y2="326.3" stroke="#999" stroke-width="0.6"/><line x1="306.4" y1="324.3" x2="306.4" y2="326.3" stroke="#999" stroke-width="0.6"/><line x1="308.1" y1="324.3" x2="308.1" y2="326.3" stroke="#999" stroke-width="0.6"/><line x1="309.6" y1="324.3" x2="309.6" y2="326.3" stroke="#999" stroke-width="0.6"/><line x1="310.9" y1="324.3" x2="310.9" y2="326.3" stroke="#999" stroke-width="0.6"/><line x1="319.8" y1="324.3" x2="319.8" y2="326.3" stroke="#999" stroke-width="0.6"/><line x1="324.4" y1="324.3" x2="324.4" y2="326.3" stroke="#999" stroke-width="0.6"/><line x1="327.6" y1="324.3" x2="327.6" y2="326.3" stroke="#999" stroke-width="0.6"/><line x1="330.1" y1="324.3" x2="330.1" y2="326.3" stroke="#999" stroke-width="0.6"/><line x1="332.1" y1="324.3" x2="332.1" y2="326.3" stroke="#999" stroke-width="0.6"/><line x1="333.8" y1="324.3" x2="333.8" y2="326.3" stroke="#999" stroke-width="0.6"/><line x1="335.3" y1="324.3" x2="335.3" y2="326.3" stroke="#999" stroke-width="0.6"/><line x1="336.6" y1="324.3" x2="336.6" y2="326.3" stroke="#999" stroke-width="0.6"/><line x1="242.1" y1="324.3" x2="242.1" y2="327.3" stroke="#777" stroke-width="0.7"/><line x1="260.7" y1="324.3" x2="260.7" y2="327.3" stroke="#777" stroke-width="0.7"/><line x1="286.4" y1="324.3" x2="286.4" y2="327.3" stroke="#777" stroke-width="0.7"/><line x1="311.9" y1="324.3" x2="311.9" y2="327.3" stroke="#777" stroke-width="0.7"/><line x1="337.9" y1="324.3" x2="337.9" y2="327.3" stroke="#777" stroke-width="0.7"/><line x1="235.9" y1="220.4" x2="238.9" y2="220.4" stroke="#777" stroke-width="0.7"/><line x1="235.9" y1="245.7" x2="238.9" y2="245.7" stroke="#777" stroke-width="0.7"/><line x1="235.9" y1="271.0" x2="238.9" y2="271.0" stroke="#777" stroke-width="0.7"/><line x1="235.9" y1="296.3" x2="238.9" y2="296.3" stroke="#777" stroke-width="0.7"/><line x1="235.9" y1="311.0" x2="238.9" y2="311.0" stroke="#777" stroke-width="0.7"/><line x1="387.3" y1="324.3" x2="387.3" y2="326.3" stroke="#999" stroke-width="0.6"/><line x1="391.9" y1="324.3" x2="391.9" y2="326.3" stroke="#999" stroke-width="0.6"/><line x1="395.1" y1="324.3" x2="395.1" y2="326.3" stroke="#999" stroke-width="0.6"/><line x1="397.6" y1="324.3" x2="397.6" y2="326.3" stroke="#999" stroke-width="0.6"/><line x1="399.6" y1="324.3" x2="399.6" y2="326.3" stroke="#999" stroke-width="0.6"/><line x1="401.3" y1="324.3" x2="401.3" y2="326.3" stroke="#999" stroke-width="0.6"/><line x1="402.8" y1="324.3" x2="402.8" y2="326.3" stroke="#999" stroke-width="0.6"/><line x1="404.1" y1="324.3" x2="404.1" y2="326.3" stroke="#999" stroke-width="0.6"/><line x1="413.0" y1="324.3" x2="413.0" y2="326.3" stroke="#999" stroke-width="0.6"/><line x1="417.6" y1="324.3" x2="417.6" y2="326.3" stroke="#999" stroke-width="0.6"/><line x1="420.8" y1="324.3" x2="420.8" y2="326.3" stroke="#999" stroke-width="0.6"/><line x1="423.3" y1="324.3" x2="423.3" y2="326.3" stroke="#999" stroke-width="0.6"/><line x1="425.3" y1="324.3" x2="425.3" y2="326.3" stroke="#999" stroke-width="0.6"/><line x1="427.0" y1="324.3" x2="427.0" y2="326.3" stroke="#999" stroke-width="0.6"/><line x1="428.5" y1="324.3" x2="428.5" y2="326.3" stroke="#999" stroke-width="0.6"/><line x1="429.8" y1="324.3" x2="429.8" y2="326.3" stroke="#999" stroke-width="0.6"/><line x1="438.7" y1="324.3" x2="438.7" y2="326.3" stroke="#999" stroke-width="0.6"/><line x1="443.3" y1="324.3" x2="443.3" y2="326.3" stroke="#999" stroke-width="0.6"/><line x1="446.5" y1="324.3" x2="446.5" y2="326.3" stroke="#999" stroke-width="0.6"/><line x1="449.0" y1="324.3" x2="449.0" y2="326.3" stroke="#999" stroke-width="0.6"/><line x1="451.0" y1="324.3" x2="451.0" y2="326.3" stroke="#999" stroke-width="0.6"/><line x1="452.7" y1="324.3" x2="452.7" y2="326.3" stroke="#999" stroke-width="0.6"/><line x1="454.2" y1="324.3" x2="454.2" y2="326.3" stroke="#999" stroke-width="0.6"/><line x1="455.5" y1="324.3" x2="455.5" y2="326.3" stroke="#999" stroke-width="0.6"/><line x1="361.0" y1="324.3" x2="361.0" y2="327.3" stroke="#777" stroke-width="0.7"/><line x1="379.6" y1="324.3" x2="379.6" y2="327.3" stroke="#777" stroke-width="0.7"/><line x1="405.3" y1="324.3" x2="405.3" y2="327.3" stroke="#777" stroke-width="0.7"/><line x1="430.8" y1="324.3" x2="430.8" y2="327.3" stroke="#777" stroke-width="0.7"/><line x1="456.8" y1="324.3" x2="456.8" y2="327.3" stroke="#777" stroke-width="0.7"/><line x1="354.8" y1="220.4" x2="357.8" y2="220.4" stroke="#777" stroke-width="0.7"/><line x1="354.8" y1="245.7" x2="357.8" y2="245.7" stroke="#777" stroke-width="0.7"/><line x1="354.8" y1="271.0" x2="357.8" y2="271.0" stroke="#777" stroke-width="0.7"/><line x1="354.8" y1="296.3" x2="357.8" y2="296.3" stroke="#777" stroke-width="0.7"/><line x1="354.8" y1="311.0" x2="357.8" y2="311.0" stroke="#777" stroke-width="0.7"/><line x1="506.2" y1="324.3" x2="506.2" y2="326.3" stroke="#999" stroke-width="0.6"/><line x1="510.8" y1="324.3" x2="510.8" y2="326.3" stroke="#999" stroke-width="0.6"/><line x1="514.0" y1="324.3" x2="514.0" y2="326.3" stroke="#999" stroke-width="0.6"/><line x1="516.5" y1="324.3" x2="516.5" y2="326.3" stroke="#999" stroke-width="0.6"/><line x1="518.5" y1="324.3" x2="518.5" y2="326.3" stroke="#999" stroke-width="0.6"/><line x1="520.2" y1="324.3" x2="520.2" y2="326.3" stroke="#999" stroke-width="0.6"/><line x1="521.7" y1="324.3" x2="521.7" y2="326.3" stroke="#999" stroke-width="0.6"/><line x1="523.0" y1="324.3" x2="523.0" y2="326.3" stroke="#999" stroke-width="0.6"/><line x1="531.9" y1="324.3" x2="531.9" y2="326.3" stroke="#999" stroke-width="0.6"/><line x1="536.5" y1="324.3" x2="536.5" y2="326.3" stroke="#999" stroke-width="0.6"/><line x1="539.7" y1="324.3" x2="539.7" y2="326.3" stroke="#999" stroke-width="0.6"/><line x1="542.2" y1="324.3" x2="542.2" y2="326.3" stroke="#999" stroke-width="0.6"/><line x1="544.2" y1="324.3" x2="544.2" y2="326.3" stroke="#999" stroke-width="0.6"/><line x1="545.9" y1="324.3" x2="545.9" y2="326.3" stroke="#999" stroke-width="0.6"/><line x1="547.4" y1="324.3" x2="547.4" y2="326.3" stroke="#999" stroke-width="0.6"/><line x1="548.7" y1="324.3" x2="548.7" y2="326.3" stroke="#999" stroke-width="0.6"/><line x1="557.6" y1="324.3" x2="557.6" y2="326.3" stroke="#999" stroke-width="0.6"/><line x1="562.2" y1="324.3" x2="562.2" y2="326.3" stroke="#999" stroke-width="0.6"/><line x1="565.4" y1="324.3" x2="565.4" y2="326.3" stroke="#999" stroke-width="0.6"/><line x1="567.9" y1="324.3" x2="567.9" y2="326.3" stroke="#999" stroke-width="0.6"/><line x1="569.9" y1="324.3" x2="569.9" y2="326.3" stroke="#999" stroke-width="0.6"/><line x1="571.6" y1="324.3" x2="571.6" y2="326.3" stroke="#999" stroke-width="0.6"/><line x1="573.1" y1="324.3" x2="573.1" y2="326.3" stroke="#999" stroke-width="0.6"/><line x1="574.4" y1="324.3" x2="574.4" y2="326.3" stroke="#999" stroke-width="0.6"/><line x1="479.9" y1="324.3" x2="479.9" y2="327.3" stroke="#777" stroke-width="0.7"/><line x1="498.5" y1="324.3" x2="498.5" y2="327.3" stroke="#777" stroke-width="0.7"/><line x1="524.2" y1="324.3" x2="524.2" y2="327.3" stroke="#777" stroke-width="0.7"/><line x1="549.7" y1="324.3" x2="549.7" y2="327.3" stroke="#777" stroke-width="0.7"/><line x1="575.7" y1="324.3" x2="575.7" y2="327.3" stroke="#777" stroke-width="0.7"/><line x1="473.7" y1="220.4" x2="476.7" y2="220.4" stroke="#777" stroke-width="0.7"/><line x1="473.7" y1="245.7" x2="476.7" y2="245.7" stroke="#777" stroke-width="0.7"/><line x1="473.7" y1="271.0" x2="476.7" y2="271.0" stroke="#777" stroke-width="0.7"/><line x1="473.7" y1="296.3" x2="476.7" y2="296.3" stroke="#777" stroke-width="0.7"/><line x1="473.7" y1="311.0" x2="476.7" y2="311.0" stroke="#777" stroke-width="0.7"/><g clip-path="url(#bx20)"><g clip-path="url(#cl20)"><g filter="url(#jet)"><rect x="119.2" y="356.1" width="107.1" height="113.2" fill="#000" fill-opacity="0"/><ellipse cx="185.70" cy="399.10" rx="24.00" ry="30.00" fill="url(#gau)" opacity="1.000"/><ellipse cx="185.70" cy="399.10" rx="13.50" ry="19.50" fill="url(#gau)" opacity="0.600"/><ellipse cx="185.20" cy="389.10" rx="33.00" ry="13.50" fill="url(#gau)" opacity="0.550"/><ellipse cx="184.70" cy="412.10" rx="15.00" ry="24.00" fill="url(#gau)" opacity="0.420"/><ellipse cx="175.70" cy="393.10" rx="15.00" ry="13.50" fill="url(#gau)" opacity="0.330"/><ellipse cx="189.50" cy="440.10" rx="23.46" ry="42.00" fill="url(#gau)" opacity="0.580"/></g></g></g><line x1="166.6" y1="356.1" x2="166.6" y2="469.3" stroke="#333" stroke-width="0.9"/><line x1="119.2" y1="421.90000000000003" x2="226.3" y2="421.90000000000003" stroke="#333" stroke-width="0.9"/><path d="M119.2,356.1H226.3V469.3" fill="none" stroke="#000" stroke-width="1.6"/><path d="M117.60000000000001,355.40000000000003V469.3H227.0" fill="none" stroke="#000" stroke-width="1.9"/><path d="M117.10000000000001,356.1H120.2" fill="none" stroke="#000" stroke-width="1.6"/><text x="122.7" y="375.1" font-size="17.5">67.8</text><text x="122.7" y="462.40000000000003" font-size="17.5">30.4</text><g clip-path="url(#bx21)"><g clip-path="url(#cl21)"><g filter="url(#jet)"><rect x="238.9" y="356.1" width="107" height="113.2" fill="#000" fill-opacity="0"/><ellipse cx="303.70" cy="399.60" rx="24.00" ry="30.00" fill="url(#gau)" opacity="1.000"/><ellipse cx="303.70" cy="399.60" rx="13.50" ry="19.50" fill="url(#gau)" opacity="0.600"/><ellipse cx="303.20" cy="389.60" rx="33.00" ry="13.50" fill="url(#gau)" opacity="0.550"/><ellipse cx="302.70" cy="412.60" rx="15.00" ry="24.00" fill="url(#gau)" opacity="0.420"/><ellipse cx="293.70" cy="393.60" rx="15.00" ry="13.50" fill="url(#gau)" opacity="0.330"/><ellipse cx="307.20" cy="439.10" rx="23.46" ry="42.00" fill="url(#gau)" opacity="0.600"/></g></g></g><line x1="286.5" y1="356.1" x2="286.5" y2="469.3" stroke="#333" stroke-width="0.9"/><line x1="238.9" y1="421.90000000000003" x2="345.9" y2="421.90000000000003" stroke="#333" stroke-width="0.9"/><path d="M238.9,356.1H345.9V469.3" fill="none" stroke="#000" stroke-width="1.6"/><path d="M238.9,355.40000000000003V469.3H346.59999999999997" fill="none" stroke="#000" stroke-width="1.9"/><text x="242.4" y="375.1" font-size="17.5">65.7</text><text x="242.4" y="462.40000000000003" font-size="17.5">32.4</text><g clip-path="url(#bx22)"><g clip-path="url(#cl22)"><g filter="url(#jet)"><rect x="357.8" y="356.1" width="107.4" height="113.2" fill="#000" fill-opacity="0"/><ellipse cx="426.20" cy="400.60" rx="24.00" ry="30.00" fill="url(#gau)" opacity="1.000"/><ellipse cx="426.20" cy="400.60" rx="13.50" ry="19.50" fill="url(#gau)" opacity="0.600"/><ellipse cx="425.70" cy="390.60" rx="33.00" ry="13.50" fill="url(#gau)" opacity="0.550"/><ellipse cx="425.20" cy="413.60" rx="15.00" ry="24.00" fill="url(#gau)" opacity="0.420"/><ellipse cx="416.20" cy="394.60" rx="15.00" ry="13.50" fill="url(#gau)" opacity="0.330"/><ellipse cx="429.70" cy="439.10" rx="23.46" ry="42.00" fill="url(#gau)" opacity="0.840"/></g></g></g><line x1="406.6" y1="356.1" x2="406.6" y2="469.3" stroke="#333" stroke-width="0.9"/><line x1="357.8" y1="421.90000000000003" x2="465.20000000000005" y2="421.90000000000003" stroke="#333" stroke-width="0.9"/><path d="M357.8,356.1H465.20000000000005V469.3" fill="none" stroke="#000" stroke-width="1.6"/><path d="M357.8,355.40000000000003V469.3H465.90000000000003" fill="none" stroke="#000" stroke-width="1.9"/><text x="365.1" y="375.1" font-size="17.5">58.1</text><text x="365.1" y="462.40000000000003" font-size="17.5">40.9</text><g clip-path="url(#bx23)"><g clip-path="url(#cl23)"><g filter="url(#jet)"><rect x="476.7" y="356.1" width="106.2" height="113.2" fill="#000" fill-opacity="0"/><ellipse cx="549.30" cy="402.10" rx="22.50" ry="28.50" fill="url(#gau)" opacity="0.560"/><ellipse cx="550.20" cy="422.10" rx="16.50" ry="27.00" fill="url(#gau)" opacity="0.340"/><ellipse cx="551.60" cy="443.60" rx="20.70" ry="45.00" fill="url(#gau)" opacity="1.000"/><ellipse cx="551.60" cy="443.60" rx="10.50" ry="21.00" fill="url(#gau)" opacity="0.600"/></g></g></g><line x1="524.5" y1="356.1" x2="524.5" y2="469.3" stroke="#333" stroke-width="0.9"/><line x1="476.7" y1="421.90000000000003" x2="582.9" y2="421.90000000000003" stroke="#333" stroke-width="0.9"/><path d="M476.7,356.1H582.9V469.3" fill="none" stroke="#000" stroke-width="1.6"/><path d="M476.7,355.40000000000003V469.3H583.6" fill="none" stroke="#000" stroke-width="1.9"/><text x="483.0" y="375.1" font-size="17.5">26.4</text><text x="483.0" y="462.40000000000003" font-size="17.5">73.3</text><line x1="115.2" y1="365.5" x2="119.2" y2="365.5" stroke="#555" stroke-width="0.8"/><text x="111.7" y="370.0" font-size="13" text-anchor="end">10<tspan font-size="9.3" dy="-5.5">5</tspan></text><line x1="115.2" y1="390.8" x2="119.2" y2="390.8" stroke="#555" stroke-width="0.8"/><text x="111.7" y="395.3" font-size="13" text-anchor="end">10<tspan font-size="9.3" dy="-5.5">4</tspan></text><line x1="115.2" y1="416.1" x2="119.2" y2="416.1" stroke="#555" stroke-width="0.8"/><text x="111.7" y="420.6" font-size="13" text-anchor="end">10<tspan font-size="9.3" dy="-5.5">3</tspan></text><line x1="115.2" y1="441.40000000000003" x2="119.2" y2="441.40000000000003" stroke="#555" stroke-width="0.8"/><text x="111.7" y="445.90000000000003" font-size="13" text-anchor="end">10<tspan font-size="9.3" dy="-5.5">2</tspan></text><line x1="115.2" y1="456.1" x2="119.2" y2="456.1" stroke="#555" stroke-width="0.8"/><text x="111.7" y="460.8" font-size="13" text-anchor="end">0</text><line x1="117.2" y1="433.8" x2="119.2" y2="433.8" stroke="#888" stroke-width="0.6"/><line x1="117.2" y1="429.3" x2="119.2" y2="429.3" stroke="#888" stroke-width="0.6"/><line x1="117.2" y1="426.2" x2="119.2" y2="426.2" stroke="#888" stroke-width="0.6"/><line x1="117.2" y1="423.7" x2="119.2" y2="423.7" stroke="#888" stroke-width="0.6"/><line x1="117.2" y1="421.7" x2="119.2" y2="421.7" stroke="#888" stroke-width="0.6"/><line x1="117.2" y1="420.0" x2="119.2" y2="420.0" stroke="#888" stroke-width="0.6"/><line x1="117.2" y1="418.6" x2="119.2" y2="418.6" stroke="#888" stroke-width="0.6"/><line x1="117.2" y1="417.3" x2="119.2" y2="417.3" stroke="#888" stroke-width="0.6"/><line x1="117.2" y1="408.5" x2="119.2" y2="408.5" stroke="#888" stroke-width="0.6"/><line x1="117.2" y1="404.0" x2="119.2" y2="404.0" stroke="#888" stroke-width="0.6"/><line x1="117.2" y1="400.9" x2="119.2" y2="400.9" stroke="#888" stroke-width="0.6"/><line x1="117.2" y1="398.4" x2="119.2" y2="398.4" stroke="#888" stroke-width="0.6"/><line x1="117.2" y1="396.4" x2="119.2" y2="396.4" stroke="#888" stroke-width="0.6"/><line x1="117.2" y1="394.7" x2="119.2" y2="394.7" stroke="#888" stroke-width="0.6"/><line x1="117.2" y1="393.3" x2="119.2" y2="393.3" stroke="#888" stroke-width="0.6"/><line x1="117.2" y1="392.0" x2="119.2" y2="392.0" stroke="#888" stroke-width="0.6"/><line x1="117.2" y1="383.2" x2="119.2" y2="383.2" stroke="#888" stroke-width="0.6"/><line x1="117.2" y1="378.7" x2="119.2" y2="378.7" stroke="#888" stroke-width="0.6"/><line x1="117.2" y1="375.6" x2="119.2" y2="375.6" stroke="#888" stroke-width="0.6"/><line x1="117.2" y1="373.1" x2="119.2" y2="373.1" stroke="#888" stroke-width="0.6"/><line x1="117.2" y1="371.1" x2="119.2" y2="371.1" stroke="#888" stroke-width="0.6"/><line x1="117.2" y1="369.4" x2="119.2" y2="369.4" stroke="#888" stroke-width="0.6"/><line x1="117.2" y1="368.0" x2="119.2" y2="368.0" stroke="#888" stroke-width="0.6"/><line x1="117.2" y1="366.7" x2="119.2" y2="366.7" stroke="#888" stroke-width="0.6"/><text x="122.4" y="488.90000000000003" font-size="12.8" text-anchor="middle">0</text><line x1="122.4" y1="469.3" x2="122.4" y2="472.8" stroke="#555" stroke-width="0.8"/><text x="141.3" y="488.90000000000003" font-size="12.8" text-anchor="middle" letter-spacing="-0.3">10<tspan font-size="9" dy="-5.5">2</tspan></text><line x1="141.0" y1="469.3" x2="141.0" y2="472.8" stroke="#555" stroke-width="0.8"/><text x="167.0" y="488.90000000000003" font-size="12.8" text-anchor="middle" letter-spacing="-0.3">10<tspan font-size="9" dy="-5.5">3</tspan></text><line x1="166.7" y1="469.3" x2="166.7" y2="472.8" stroke="#555" stroke-width="0.8"/><text x="192.5" y="488.90000000000003" font-size="12.8" text-anchor="middle" letter-spacing="-0.3">10<tspan font-size="9" dy="-5.5">4</tspan></text><line x1="192.2" y1="469.3" x2="192.2" y2="472.8" stroke="#555" stroke-width="0.8"/><text x="218.5" y="488.90000000000003" font-size="12.8" text-anchor="middle" letter-spacing="-0.3">10<tspan font-size="9" dy="-5.5">5</tspan></text><line x1="218.2" y1="469.3" x2="218.2" y2="472.8" stroke="#555" stroke-width="0.8"/><line x1="148.7" y1="469.3" x2="148.7" y2="471.3" stroke="#999" stroke-width="0.6"/><line x1="153.3" y1="469.3" x2="153.3" y2="471.3" stroke="#999" stroke-width="0.6"/><line x1="156.5" y1="469.3" x2="156.5" y2="471.3" stroke="#999" stroke-width="0.6"/><line x1="159.0" y1="469.3" x2="159.0" y2="471.3" stroke="#999" stroke-width="0.6"/><line x1="161.0" y1="469.3" x2="161.0" y2="471.3" stroke="#999" stroke-width="0.6"/><line x1="162.7" y1="469.3" x2="162.7" y2="471.3" stroke="#999" stroke-width="0.6"/><line x1="164.2" y1="469.3" x2="164.2" y2="471.3" stroke="#999" stroke-width="0.6"/><line x1="165.5" y1="469.3" x2="165.5" y2="471.3" stroke="#999" stroke-width="0.6"/><line x1="174.4" y1="469.3" x2="174.4" y2="471.3" stroke="#999" stroke-width="0.6"/><line x1="179.0" y1="469.3" x2="179.0" y2="471.3" stroke="#999" stroke-width="0.6"/><line x1="182.2" y1="469.3" x2="182.2" y2="471.3" stroke="#999" stroke-width="0.6"/><line x1="184.7" y1="469.3" x2="184.7" y2="471.3" stroke="#999" stroke-width="0.6"/><line x1="186.7" y1="469.3" x2="186.7" y2="471.3" stroke="#999" stroke-width="0.6"/><line x1="188.4" y1="469.3" x2="188.4" y2="471.3" stroke="#999" stroke-width="0.6"/><line x1="189.9" y1="469.3" x2="189.9" y2="471.3" stroke="#999" stroke-width="0.6"/><line x1="191.2" y1="469.3" x2="191.2" y2="471.3" stroke="#999" stroke-width="0.6"/><line x1="200.1" y1="469.3" x2="200.1" y2="471.3" stroke="#999" stroke-width="0.6"/><line x1="204.7" y1="469.3" x2="204.7" y2="471.3" stroke="#999" stroke-width="0.6"/><line x1="207.9" y1="469.3" x2="207.9" y2="471.3" stroke="#999" stroke-width="0.6"/><line x1="210.4" y1="469.3" x2="210.4" y2="471.3" stroke="#999" stroke-width="0.6"/><line x1="212.4" y1="469.3" x2="212.4" y2="471.3" stroke="#999" stroke-width="0.6"/><line x1="214.1" y1="469.3" x2="214.1" y2="471.3" stroke="#999" stroke-width="0.6"/><line x1="215.6" y1="469.3" x2="215.6" y2="471.3" stroke="#999" stroke-width="0.6"/><line x1="216.9" y1="469.3" x2="216.9" y2="471.3" stroke="#999" stroke-width="0.6"/><line x1="268.4" y1="469.3" x2="268.4" y2="471.3" stroke="#999" stroke-width="0.6"/><line x1="273.0" y1="469.3" x2="273.0" y2="471.3" stroke="#999" stroke-width="0.6"/><line x1="276.2" y1="469.3" x2="276.2" y2="471.3" stroke="#999" stroke-width="0.6"/><line x1="278.7" y1="469.3" x2="278.7" y2="471.3" stroke="#999" stroke-width="0.6"/><line x1="280.7" y1="469.3" x2="280.7" y2="471.3" stroke="#999" stroke-width="0.6"/><line x1="282.4" y1="469.3" x2="282.4" y2="471.3" stroke="#999" stroke-width="0.6"/><line x1="283.9" y1="469.3" x2="283.9" y2="471.3" stroke="#999" stroke-width="0.6"/><line x1="285.2" y1="469.3" x2="285.2" y2="471.3" stroke="#999" stroke-width="0.6"/><line x1="294.1" y1="469.3" x2="294.1" y2="471.3" stroke="#999" stroke-width="0.6"/><line x1="298.7" y1="469.3" x2="298.7" y2="471.3" stroke="#999" stroke-width="0.6"/><line x1="301.9" y1="469.3" x2="301.9" y2="471.3" stroke="#999" stroke-width="0.6"/><line x1="304.4" y1="469.3" x2="304.4" y2="471.3" stroke="#999" stroke-width="0.6"/><line x1="306.4" y1="469.3" x2="306.4" y2="471.3" stroke="#999" stroke-width="0.6"/><line x1="308.1" y1="469.3" x2="308.1" y2="471.3" stroke="#999" stroke-width="0.6"/><line x1="309.6" y1="469.3" x2="309.6" y2="471.3" stroke="#999" stroke-width="0.6"/><line x1="310.9" y1="469.3" x2="310.9" y2="471.3" stroke="#999" stroke-width="0.6"/><line x1="319.8" y1="469.3" x2="319.8" y2="471.3" stroke="#999" stroke-width="0.6"/><line x1="324.4" y1="469.3" x2="324.4" y2="471.3" stroke="#999" stroke-width="0.6"/><line x1="327.6" y1="469.3" x2="327.6" y2="471.3" stroke="#999" stroke-width="0.6"/><line x1="330.1" y1="469.3" x2="330.1" y2="471.3" stroke="#999" stroke-width="0.6"/><line x1="332.1" y1="469.3" x2="332.1" y2="471.3" stroke="#999" stroke-width="0.6"/><line x1="333.8" y1="469.3" x2="333.8" y2="471.3" stroke="#999" stroke-width="0.6"/><line x1="335.3" y1="469.3" x2="335.3" y2="471.3" stroke="#999" stroke-width="0.6"/><line x1="336.6" y1="469.3" x2="336.6" y2="471.3" stroke="#999" stroke-width="0.6"/><line x1="242.1" y1="469.3" x2="242.1" y2="472.3" stroke="#777" stroke-width="0.7"/><line x1="260.7" y1="469.3" x2="260.7" y2="472.3" stroke="#777" stroke-width="0.7"/><line x1="286.4" y1="469.3" x2="286.4" y2="472.3" stroke="#777" stroke-width="0.7"/><line x1="311.9" y1="469.3" x2="311.9" y2="472.3" stroke="#777" stroke-width="0.7"/><line x1="337.9" y1="469.3" x2="337.9" y2="472.3" stroke="#777" stroke-width="0.7"/><line x1="235.9" y1="365.5" x2="238.9" y2="365.5" stroke="#777" stroke-width="0.7"/><line x1="235.9" y1="390.8" x2="238.9" y2="390.8" stroke="#777" stroke-width="0.7"/><line x1="235.9" y1="416.1" x2="238.9" y2="416.1" stroke="#777" stroke-width="0.7"/><line x1="235.9" y1="441.40000000000003" x2="238.9" y2="441.40000000000003" stroke="#777" stroke-width="0.7"/><line x1="235.9" y1="456.1" x2="238.9" y2="456.1" stroke="#777" stroke-width="0.7"/><line x1="387.3" y1="469.3" x2="387.3" y2="471.3" stroke="#999" stroke-width="0.6"/><line x1="391.9" y1="469.3" x2="391.9" y2="471.3" stroke="#999" stroke-width="0.6"/><line x1="395.1" y1="469.3" x2="395.1" y2="471.3" stroke="#999" stroke-width="0.6"/><line x1="397.6" y1="469.3" x2="397.6" y2="471.3" stroke="#999" stroke-width="0.6"/><line x1="399.6" y1="469.3" x2="399.6" y2="471.3" stroke="#999" stroke-width="0.6"/><line x1="401.3" y1="469.3" x2="401.3" y2="471.3" stroke="#999" stroke-width="0.6"/><line x1="402.8" y1="469.3" x2="402.8" y2="471.3" stroke="#999" stroke-width="0.6"/><line x1="404.1" y1="469.3" x2="404.1" y2="471.3" stroke="#999" stroke-width="0.6"/><line x1="413.0" y1="469.3" x2="413.0" y2="471.3" stroke="#999" stroke-width="0.6"/><line x1="417.6" y1="469.3" x2="417.6" y2="471.3" stroke="#999" stroke-width="0.6"/><line x1="420.8" y1="469.3" x2="420.8" y2="471.3" stroke="#999" stroke-width="0.6"/><line x1="423.3" y1="469.3" x2="423.3" y2="471.3" stroke="#999" stroke-width="0.6"/><line x1="425.3" y1="469.3" x2="425.3" y2="471.3" stroke="#999" stroke-width="0.6"/><line x1="427.0" y1="469.3" x2="427.0" y2="471.3" stroke="#999" stroke-width="0.6"/><line x1="428.5" y1="469.3" x2="428.5" y2="471.3" stroke="#999" stroke-width="0.6"/><line x1="429.8" y1="469.3" x2="429.8" y2="471.3" stroke="#999" stroke-width="0.6"/><line x1="438.7" y1="469.3" x2="438.7" y2="471.3" stroke="#999" stroke-width="0.6"/><line x1="443.3" y1="469.3" x2="443.3" y2="471.3" stroke="#999" stroke-width="0.6"/><line x1="446.5" y1="469.3" x2="446.5" y2="471.3" stroke="#999" stroke-width="0.6"/><line x1="449.0" y1="469.3" x2="449.0" y2="471.3" stroke="#999" stroke-width="0.6"/><line x1="451.0" y1="469.3" x2="451.0" y2="471.3" stroke="#999" stroke-width="0.6"/><line x1="452.7" y1="469.3" x2="452.7" y2="471.3" stroke="#999" stroke-width="0.6"/><line x1="454.2" y1="469.3" x2="454.2" y2="471.3" stroke="#999" stroke-width="0.6"/><line x1="455.5" y1="469.3" x2="455.5" y2="471.3" stroke="#999" stroke-width="0.6"/><line x1="361.0" y1="469.3" x2="361.0" y2="472.3" stroke="#777" stroke-width="0.7"/><line x1="379.6" y1="469.3" x2="379.6" y2="472.3" stroke="#777" stroke-width="0.7"/><line x1="405.3" y1="469.3" x2="405.3" y2="472.3" stroke="#777" stroke-width="0.7"/><line x1="430.8" y1="469.3" x2="430.8" y2="472.3" stroke="#777" stroke-width="0.7"/><line x1="456.8" y1="469.3" x2="456.8" y2="472.3" stroke="#777" stroke-width="0.7"/><line x1="354.8" y1="365.5" x2="357.8" y2="365.5" stroke="#777" stroke-width="0.7"/><line x1="354.8" y1="390.8" x2="357.8" y2="390.8" stroke="#777" stroke-width="0.7"/><line x1="354.8" y1="416.1" x2="357.8" y2="416.1" stroke="#777" stroke-width="0.7"/><line x1="354.8" y1="441.40000000000003" x2="357.8" y2="441.40000000000003" stroke="#777" stroke-width="0.7"/><line x1="354.8" y1="456.1" x2="357.8" y2="456.1" stroke="#777" stroke-width="0.7"/><line x1="506.2" y1="469.3" x2="506.2" y2="471.3" stroke="#999" stroke-width="0.6"/><line x1="510.8" y1="469.3" x2="510.8" y2="471.3" stroke="#999" stroke-width="0.6"/><line x1="514.0" y1="469.3" x2="514.0" y2="471.3" stroke="#999" stroke-width="0.6"/><line x1="516.5" y1="469.3" x2="516.5" y2="471.3" stroke="#999" stroke-width="0.6"/><line x1="518.5" y1="469.3" x2="518.5" y2="471.3" stroke="#999" stroke-width="0.6"/><line x1="520.2" y1="469.3" x2="520.2" y2="471.3" stroke="#999" stroke-width="0.6"/><line x1="521.7" y1="469.3" x2="521.7" y2="471.3" stroke="#999" stroke-width="0.6"/><line x1="523.0" y1="469.3" x2="523.0" y2="471.3" stroke="#999" stroke-width="0.6"/><line x1="531.9" y1="469.3" x2="531.9" y2="471.3" stroke="#999" stroke-width="0.6"/><line x1="536.5" y1="469.3" x2="536.5" y2="471.3" stroke="#999" stroke-width="0.6"/><line x1="539.7" y1="469.3" x2="539.7" y2="471.3" stroke="#999" stroke-width="0.6"/><line x1="542.2" y1="469.3" x2="542.2" y2="471.3" stroke="#999" stroke-width="0.6"/><line x1="544.2" y1="469.3" x2="544.2" y2="471.3" stroke="#999" stroke-width="0.6"/><line x1="545.9" y1="469.3" x2="545.9" y2="471.3" stroke="#999" stroke-width="0.6"/><line x1="547.4" y1="469.3" x2="547.4" y2="471.3" stroke="#999" stroke-width="0.6"/><line x1="548.7" y1="469.3" x2="548.7" y2="471.3" stroke="#999" stroke-width="0.6"/><line x1="557.6" y1="469.3" x2="557.6" y2="471.3" stroke="#999" stroke-width="0.6"/><line x1="562.2" y1="469.3" x2="562.2" y2="471.3" stroke="#999" stroke-width="0.6"/><line x1="565.4" y1="469.3" x2="565.4" y2="471.3" stroke="#999" stroke-width="0.6"/><line x1="567.9" y1="469.3" x2="567.9" y2="471.3" stroke="#999" stroke-width="0.6"/><line x1="569.9" y1="469.3" x2="569.9" y2="471.3" stroke="#999" stroke-width="0.6"/><line x1="571.6" y1="469.3" x2="571.6" y2="471.3" stroke="#999" stroke-width="0.6"/><line x1="573.1" y1="469.3" x2="573.1" y2="471.3" stroke="#999" stroke-width="0.6"/><line x1="574.4" y1="469.3" x2="574.4" y2="471.3" stroke="#999" stroke-width="0.6"/><line x1="479.9" y1="469.3" x2="479.9" y2="472.3" stroke="#777" stroke-width="0.7"/><line x1="498.5" y1="469.3" x2="498.5" y2="472.3" stroke="#777" stroke-width="0.7"/><line x1="524.2" y1="469.3" x2="524.2" y2="472.3" stroke="#777" stroke-width="0.7"/><line x1="549.7" y1="469.3" x2="549.7" y2="472.3" stroke="#777" stroke-width="0.7"/><line x1="575.7" y1="469.3" x2="575.7" y2="472.3" stroke="#777" stroke-width="0.7"/><line x1="473.7" y1="365.5" x2="476.7" y2="365.5" stroke="#777" stroke-width="0.7"/><line x1="473.7" y1="390.8" x2="476.7" y2="390.8" stroke="#777" stroke-width="0.7"/><line x1="473.7" y1="416.1" x2="476.7" y2="416.1" stroke="#777" stroke-width="0.7"/><line x1="473.7" y1="441.40000000000003" x2="476.7" y2="441.40000000000003" stroke="#777" stroke-width="0.7"/><line x1="473.7" y1="456.1" x2="476.7" y2="456.1" stroke="#777" stroke-width="0.7"/>
<path d="M26.6,509V462" stroke="#000" stroke-width="2.6" fill="none"/><path d="M20.6,464 L26.6,452 L32.6,464Z" fill="#000"/>
<path d="M25.3,508.7H72" stroke="#000" stroke-width="2.6" fill="none"/><path d="M71.5,503 L83.6,508.7 L71.5,514.4Z" fill="#000"/>
<text transform="translate(18.1,514.8) rotate(-90)" font-size="18">CD62L</text>
<text x="26.6" y="530.3" font-size="17.5">CD44</text>
<text transform="translate(613.0,21.8) scale(0.95,1)" font-size="25.5" font-weight="bold">b</text><path d="M686,93.3V240.3H906.5" fill="none" stroke="#000" stroke-width="1.3"/><line x1="681" y1="240.3" x2="686" y2="240.3" stroke="#000" stroke-width="1.3"/><text x="674.7" y="246.5" font-size="17.5" text-anchor="end">0</text><line x1="681" y1="191.3" x2="686" y2="191.3" stroke="#000" stroke-width="1.3"/><text x="674.7" y="197.5" font-size="17.5" text-anchor="end">1</text><line x1="681" y1="142.3" x2="686" y2="142.3" stroke="#000" stroke-width="1.3"/><text x="674.7" y="148.5" font-size="17.5" text-anchor="end">2</text><line x1="681" y1="93.3" x2="686" y2="93.3" stroke="#000" stroke-width="1.3"/><text x="674.7" y="99.5" font-size="17.5" text-anchor="end">3</text><line x1="723.3" y1="240.3" x2="723.3" y2="245.3" stroke="#000" stroke-width="1.3"/><line x1="796.8" y1="240.3" x2="796.8" y2="245.3" stroke="#000" stroke-width="1.3"/><line x1="869.6" y1="240.3" x2="869.6" y2="245.3" stroke="#000" stroke-width="1.3"/><text x="723.3" y="266.7" font-size="17.5" text-anchor="middle">WT</text><text x="791.4" y="266.7" font-size="17.5" text-anchor="middle" font-style="italic">lpr/lpr</text><text x="828.6" y="266.7" font-size="17.5">FasC194V<tspan font-size="12" dy="-7" font-style="italic">lpr/lpr</tspan></text><text transform="translate(626.6,164.5) rotate(-90)" font-size="18" text-anchor="middle">Fold increase in <tspan font-style="italic">T</tspan><tspan font-size="12" dy="4">EM</tspan></text><text transform="translate(648.9,164.2) rotate(-90)" font-size="18" text-anchor="middle">(FasL-LZ/vehicle)</text><text x="722.5" y="57.3" font-size="17.5"><tspan font-style="italic">P</tspan> = 0.04</text><text x="803" y="57.3" font-size="17.5"><tspan font-style="italic">P</tspan> = 0.05</text><path d="M722.5,78.6V66.8H789.5V78.6M798.6,78.6V66.8H866V78.6" fill="none" stroke="#000" stroke-width="1.3"/><path d="M723.3,99.5V171.8M710.7,99.5H736M710.7,171.8H736M698.9,135.8H747.8" fill="none" stroke="#000" stroke-width="1.4"/><circle cx="717.7" cy="112.2" r="3.8" fill="#000"/><circle cx="728.8" cy="117.7" r="3.8" fill="#000"/><circle cx="723.3" cy="177.2" r="3.8" fill="#000"/><path d="M772.1,197.9H821" fill="none" stroke="#000" stroke-width="1.4"/><circle cx="785.9" cy="196.1" r="3.2" fill="none" stroke="#000" stroke-width="1.1"/><circle cx="796.5" cy="200.5" r="3.2" fill="none" stroke="#000" stroke-width="1.1"/><circle cx="807.6" cy="196.5" r="3.2" fill="none" stroke="#000" stroke-width="1.1"/><path d="M870.2,101.1V176.1M857.6,101.1H882.7M857.6,176.1H882.7M845.8,138.4H894.7" fill="none" stroke="#000" stroke-width="1.4"/><circle cx="870.2" cy="110.4" r="3.3" fill="#fff" stroke="#000" stroke-width="1.2"/><path d="M870.2,106.60000000000001A3.8,3.8 0 0 1 870.2,114.2Z" fill="#000"/><circle cx="870.2" cy="124" r="3.3" fill="#fff" stroke="#000" stroke-width="1.2"/><path d="M870.2,120.2A3.8,3.8 0 0 1 870.2,127.8Z" fill="#000"/><circle cx="870.2" cy="181" r="3.3" fill="#fff" stroke="#000" stroke-width="1.2"/><path d="M870.2,177.2A3.8,3.8 0 0 1 870.2,184.8Z" fill="#000"/>
<text transform="translate(0.9,577.7) scale(0.92,1)" font-size="25.5" font-weight="bold">c</text><text x="168" y="631" font-size="17.5" text-anchor="middle">WT</text><text x="244" y="631" font-size="17.5" text-anchor="middle" font-style="italic">lpr/lpr</text><text x="286.4" y="631" font-size="17.5">FasC194V<tspan font-size="12" dy="-7" font-style="italic">lpr/lpr</tspan></text><rect x="144.5" y="640" width="50.0" height="3" fill="#000"/><rect x="220.5" y="640" width="50.0" height="3" fill="#000"/><rect x="296.4" y="640" width="50.400000000000034" height="3" fill="#000"/><text x="9" y="659" font-size="17.5">FasL-LZ</text><text x="151.4" y="663" font-size="17.5" text-anchor="middle">−</text><text x="188.6" y="663" font-size="17.5" text-anchor="middle">+</text><text x="227.3" y="663" font-size="17.5" text-anchor="middle">−</text><text x="263.6" y="663" font-size="17.5" text-anchor="middle">+</text><text x="302.3" y="663" font-size="17.5" text-anchor="middle">−</text><text x="338.6" y="663" font-size="17.5" text-anchor="middle">+</text><text x="9" y="702" font-size="17.5">pAkt<tspan font-size="12.7" dy="-7">S473</tspan></text><text x="9" y="779.5" font-size="17.5">Actin</text><text x="100" y="678.6" font-size="17.5" text-anchor="end">70</text><rect x="106.5" y="669.1" width="15.3" height="3.6" fill="#000"/><text x="100" y="716.7" font-size="17.5" text-anchor="end">55</text><rect x="106.5" y="706.6" width="15.3" height="3.6" fill="#000"/><text x="100" y="774.7" font-size="17.5" text-anchor="end">55</text><rect x="106.5" y="765.7" width="15.3" height="3.6" fill="#000"/><text x="100" y="808.7" font-size="17.5" text-anchor="end">37</text><rect x="106.5" y="799.7" width="15.3" height="3.6" fill="#000"/><defs><filter id="bb" x="-30%" y="-60%" width="160%" height="220%"><feGaussianBlur stdDeviation="2.2"/></filter><filter id="bb2" x="-30%" y="-60%" width="160%" height="220%"><feGaussianBlur stdDeviation="1.3"/></filter></defs><rect x="126.5" y="668.6" width="235.3" height="55.5" fill="#f5f5f5" stroke="#000" stroke-width="1.2"/><rect x="126.5" y="741.3" width="235.3" height="63.7" fill="#f5f5f5" stroke="#000" stroke-width="1.2"/><rect x="206.5" y="669.3" width="2.2" height="54.2" fill="#fcfcfc"/><rect x="206.5" y="742" width="2.2" height="62.3" fill="#fcfcfc"/><rect x="283" y="669.3" width="2.2" height="54.2" fill="#fcfcfc"/><rect x="283" y="742" width="2.2" height="62.3" fill="#fcfcfc"/><defs><linearGradient id="l6" x1="0" x2="1" y1="0" y2="0"><stop offset="0" stop-color="#6a6a6a"/><stop offset="0.5" stop-color="#303030"/><stop offset="1" stop-color="#080808"/></linearGradient><linearGradient id="l4" x1="0" x2="1" y1="0" y2="0"><stop offset="0" stop-color="#a0a0a0"/><stop offset="1" stop-color="#c4c4c4"/></linearGradient></defs><g filter="url(#bb)"><rect x="131" y="686.5" width="19" height="6" rx="3" fill="#cfcfcf"/><rect x="150" y="687.5" width="15" height="5" rx="3" fill="#dadada"/><rect x="170" y="685.3" width="30" height="11" rx="3" fill="#080808"/><rect x="171" y="695.5" width="28" height="6" rx="3" fill="#d8d8d8"/><rect x="217" y="688.8" width="23" height="8" rx="3" fill="#a8a8a8"/><rect x="247" y="690.2" width="29" height="8" rx="3" fill="url(#l4)"/><rect x="290.5" y="689.75" width="30.0" height="5.5" rx="3" fill="#d6d6d6"/><rect x="328" y="689.0" width="30" height="10" rx="3" fill="url(#l6)"/></g><g filter="url(#bb2)"><rect x="132.2" y="761" width="35.6" height="17.600000000000023" rx="4" fill="#050505"/><rect x="167.7" y="762" width="34.50000000000001" height="20.399999999999977" rx="4" fill="#050505"/><rect x="210.7" y="765.5" width="35.40000000000001" height="18.200000000000045" rx="4" fill="#050505"/><rect x="247.5" y="768" width="33.29999999999999" height="15.700000000000045" rx="4" fill="#050505"/><rect x="289.4" y="768" width="34.40000000000001" height="14.399999999999977" rx="4" fill="#050505"/><rect x="324.9" y="768" width="33.29999999999999" height="14.399999999999977" rx="4" fill="#050505"/></g>
<text transform="translate(438.3,577.4) scale(1.0,1)" font-size="25.5" font-weight="bold">d</text><path d="M552.1,596V802.1H675.8" fill="none" stroke="#000" stroke-width="1.3"/><line x1="546.4" y1="802.1" x2="552.1" y2="802.1" stroke="#000" stroke-width="1.3"/><text x="539.7" y="807.4" font-size="17.5" text-anchor="end">0</text><line x1="546.4" y1="750.6" x2="552.1" y2="750.6" stroke="#000" stroke-width="1.3"/><text x="539.7" y="755.9" font-size="17.5" text-anchor="end">20</text><line x1="546.4" y1="699.1" x2="552.1" y2="699.1" stroke="#000" stroke-width="1.3"/><text x="539.7" y="704.4" font-size="17.5" text-anchor="end">40</text><line x1="546.4" y1="647.5" x2="552.1" y2="647.5" stroke="#000" stroke-width="1.3"/><text x="539.7" y="652.8" font-size="17.5" text-anchor="end">60</text><line x1="546.4" y1="596.0" x2="552.1" y2="596.0" stroke="#000" stroke-width="1.3"/><text x="539.7" y="601.3" font-size="17.5" text-anchor="end">80</text><rect x="557.4" y="646.0" width="31" height="156.1" fill="#fff" stroke="#999" stroke-width="1"/><rect x="598" y="796.8" width="31.8" height="5.3" fill="#000"/><rect x="639.3" y="702.2" width="32.4" height="99.9" fill="#7f7f7f"/><rect x="563.1" y="580.6" width="21.2" height="15" fill="#fff" stroke="#999" stroke-width="1"/><rect x="562.6" y="599.8" width="22.2" height="13.6" fill="#000"/><rect x="562.6" y="618.2" width="22.2" height="17.4" fill="#7f7f7f"/><text x="590.2" y="594.2" font-size="17.5">WT</text><text x="590.2" y="614.9" font-size="17.5" font-style="italic">lpr/lpr</text><text x="590.2" y="633.9" font-size="17.5">FasC194V<tspan font-size="12" dy="-7" font-style="italic">lpr/lpr</tspan></text><text transform="translate(484.3,700) rotate(-90)" font-size="17.5" text-anchor="middle">% pAkt<tspan font-size="12" dy="-7">S473</tspan></text><text transform="translate(505.6,699.5) rotate(-90)" font-size="18" text-anchor="middle">(normalized to actin)</text><text x="611" y="823.8" font-size="18" text-anchor="middle">+ FasL-LZ</text>
<text transform="translate(0.6,869.9) scale(0.95,1)" font-size="25.5" font-weight="bold">e</text><clipPath id="ec0"><rect x="49.9" y="899" width="239.1" height="149.4000000000001"/></clipPath><g clip-path="url(#ec0)"><polygon points="73.3,1047.2 79.0,1028.2 82.8,971.1 85.2,906.4 88.5,907.4 92.3,933.0 96.1,971.1 100.0,1007.3 105.7,1024.4 109.5,1026.3 112.3,1021.5 115.2,1026.3 118.0,1023.0 120.0,1025.0 122.8,1021.5 125.5,1024.5 128.5,1023.4 132.0,1025.5 135.0,1022.0 138.0,1022.5 143.7,1028.2 147.0,1025.0 151.3,1025.3 155.0,1027.5 160.8,1028.2 167.0,1030.0 174.2,1032.9 185.6,1037.7 197.0,1042.5 212.2,1046.3 221.7,1047.6 221.7,1048.4 73.3,1048.4" fill="#d4d4d4" stroke="none"/><polyline points="73.3,1047.2 79.0,1028.2 82.8,971.1 85.2,906.4 88.5,907.4 92.3,933.0 96.1,971.1 100.0,1007.3 105.7,1024.4 109.5,1026.3 112.3,1021.5 115.2,1026.3 118.0,1023.0 120.0,1025.0 122.8,1021.5 125.5,1024.5 128.5,1023.4 132.0,1025.5 135.0,1022.0 138.0,1022.5 143.7,1028.2 147.0,1025.0 151.3,1025.3 155.0,1027.5 160.8,1028.2 167.0,1030.0 174.2,1032.9 185.6,1037.7 197.0,1042.5 212.2,1046.3 221.7,1047.6" fill="none" stroke="#999" stroke-width="1.1"/><polyline points="70.5,1047.2 75.0,1035.0 80.9,952.0 88.5,907.4 92.3,916.0 98.0,955.9 100.9,967.3 107.6,973.0 111.4,968.2 115.2,973.0 122.8,967.3 128.5,961.6 133.3,957.8 139.9,962.5 147.5,967.3 155.1,974.9 162.7,984.4 170.4,1001.5 178.0,1016.8 185.6,1032.0 197.0,1041.5 212.2,1045.3 227.4,1047.2" fill="none" stroke="#000" stroke-width="2.3" stroke-dasharray="2.6 2"/><polyline points="66.0,1047.6 69.5,1047.2 75.2,1039.6 80.9,971.1 84.7,914.0 88.5,908.3 92.3,917.8 96.1,952.1 100.9,999.6 105.7,1000.6 111.4,999.6 114.2,1004.4 117.1,999.6 120.9,993.0 123.7,1000.6 127.5,995.8 132.3,1001.5 135.0,999.0 138.0,996.8 140.9,1007.3 144.7,1005.4 151.3,1011.1 154.0,1010.0 158.9,1013.9 163.0,1012.0 166.5,1013.9 170.4,1021.5 178.0,1028.2 185.6,1035.8 190.0,1037.5 197.0,1041.5 208.4,1044.4 221.7,1047.2 240.0,1047.6" fill="none" stroke="#000" stroke-width="2"/></g><path d="M49.9,899H289V1048.4" fill="none" stroke="#000" stroke-width="1.5"/><path d="M49.9,898.3V1048.4H289.7" fill="none" stroke="#000" stroke-width="2"/><line x1="44.9" y1="1048.4" x2="49.9" y2="1048.4" stroke="#444" stroke-width="1"/><text x="38.5" y="1053.2" font-size="17.5" text-anchor="end">0</text><line x1="47.4" y1="1041.2" x2="49.9" y2="1041.2" stroke="#666" stroke-width="0.7"/><line x1="47.4" y1="1034.0" x2="49.9" y2="1034.0" stroke="#666" stroke-width="0.7"/><line x1="47.4" y1="1026.8" x2="49.9" y2="1026.8" stroke="#666" stroke-width="0.7"/><line x1="44.9" y1="1019.6" x2="49.9" y2="1019.6" stroke="#444" stroke-width="1"/><text x="38.5" y="1024.4" font-size="17.5" text-anchor="end">20</text><line x1="47.4" y1="1012.4" x2="49.9" y2="1012.4" stroke="#666" stroke-width="0.7"/><line x1="47.4" y1="1005.2" x2="49.9" y2="1005.2" stroke="#666" stroke-width="0.7"/><line x1="47.4" y1="998.0" x2="49.9" y2="998.0" stroke="#666" stroke-width="0.7"/><line x1="44.9" y1="990.8" x2="49.9" y2="990.8" stroke="#444" stroke-width="1"/><text x="38.5" y="995.6" font-size="17.5" text-anchor="end">40</text><line x1="47.4" y1="983.6" x2="49.9" y2="983.6" stroke="#666" stroke-width="0.7"/><line x1="47.4" y1="976.4" x2="49.9" y2="976.4" stroke="#666" stroke-width="0.7"/><line x1="47.4" y1="969.1" x2="49.9" y2="969.1" stroke="#666" stroke-width="0.7"/><line x1="44.9" y1="961.9" x2="49.9" y2="961.9" stroke="#444" stroke-width="1"/><text x="38.5" y="966.7" font-size="17.5" text-anchor="end">60</text><line x1="47.4" y1="954.7" x2="49.9" y2="954.7" stroke="#666" stroke-width="0.7"/><line x1="47.4" y1="947.5" x2="49.9" y2="947.5" stroke="#666" stroke-width="0.7"/><line x1="47.4" y1="940.3" x2="49.9" y2="940.3" stroke="#666" stroke-width="0.7"/><line x1="44.9" y1="933.1" x2="49.9" y2="933.1" stroke="#444" stroke-width="1"/><text x="38.5" y="937.9" font-size="17.5" text-anchor="end">80</text><line x1="47.4" y1="925.9" x2="49.9" y2="925.9" stroke="#666" stroke-width="0.7"/><line x1="47.4" y1="918.7" x2="49.9" y2="918.7" stroke="#666" stroke-width="0.7"/><line x1="47.4" y1="911.5" x2="49.9" y2="911.5" stroke="#666" stroke-width="0.7"/><line x1="44.9" y1="904.3" x2="49.9" y2="904.3" stroke="#444" stroke-width="1"/><text x="38.5" y="909.1" font-size="17.5" text-anchor="end">100</text><line x1="116.4" y1="1048.4" x2="116.4" y2="1050.9" stroke="#777" stroke-width="0.7"/><line x1="126.2" y1="1048.4" x2="126.2" y2="1050.9" stroke="#777" stroke-width="0.7"/><line x1="133.2" y1="1048.4" x2="133.2" y2="1050.9" stroke="#777" stroke-width="0.7"/><line x1="138.6" y1="1048.4" x2="138.6" y2="1050.9" stroke="#777" stroke-width="0.7"/><line x1="143.0" y1="1048.4" x2="143.0" y2="1050.9" stroke="#777" stroke-width="0.7"/><line x1="146.8" y1="1048.4" x2="146.8" y2="1050.9" stroke="#777" stroke-width="0.7"/><line x1="150.0" y1="1048.4" x2="150.0" y2="1050.9" stroke="#777" stroke-width="0.7"/><line x1="152.8" y1="1048.4" x2="152.8" y2="1050.9" stroke="#777" stroke-width="0.7"/><line x1="172.2" y1="1048.4" x2="172.2" y2="1050.9" stroke="#777" stroke-width="0.7"/><line x1="182.0" y1="1048.4" x2="182.0" y2="1050.9" stroke="#777" stroke-width="0.7"/><line x1="189.0" y1="1048.4" x2="189.0" y2="1050.9" stroke="#777" stroke-width="0.7"/><line x1="194.4" y1="1048.4" x2="194.4" y2="1050.9" stroke="#777" stroke-width="0.7"/><line x1="198.8" y1="1048.4" x2="198.8" y2="1050.9" stroke="#777" stroke-width="0.7"/><line x1="202.6" y1="1048.4" x2="202.6" y2="1050.9" stroke="#777" stroke-width="0.7"/><line x1="205.8" y1="1048.4" x2="205.8" y2="1050.9" stroke="#777" stroke-width="0.7"/><line x1="208.6" y1="1048.4" x2="208.6" y2="1050.9" stroke="#777" stroke-width="0.7"/><line x1="228.0" y1="1048.4" x2="228.0" y2="1050.9" stroke="#777" stroke-width="0.7"/><line x1="237.8" y1="1048.4" x2="237.8" y2="1050.9" stroke="#777" stroke-width="0.7"/><line x1="244.8" y1="1048.4" x2="244.8" y2="1050.9" stroke="#777" stroke-width="0.7"/><line x1="250.2" y1="1048.4" x2="250.2" y2="1050.9" stroke="#777" stroke-width="0.7"/><line x1="254.6" y1="1048.4" x2="254.6" y2="1050.9" stroke="#777" stroke-width="0.7"/><line x1="258.4" y1="1048.4" x2="258.4" y2="1050.9" stroke="#777" stroke-width="0.7"/><line x1="261.6" y1="1048.4" x2="261.6" y2="1050.9" stroke="#777" stroke-width="0.7"/><line x1="264.4" y1="1048.4" x2="264.4" y2="1050.9" stroke="#777" stroke-width="0.7"/><line x1="283.8" y1="1048.4" x2="283.8" y2="1050.9" stroke="#777" stroke-width="0.7"/><line x1="74.2" y1="1048.4" x2="74.2" y2="1052.4" stroke="#444" stroke-width="1"/><text x="74.2" y="1071.4" font-size="17.5" text-anchor="middle">0</text><line x1="99.6" y1="1048.4" x2="99.6" y2="1052.4" stroke="#444" stroke-width="1"/><text x="99.6" y="1071.4" font-size="17.5" text-anchor="middle">10<tspan font-size="12" dy="-7.7">2</tspan></text><line x1="155.4" y1="1048.4" x2="155.4" y2="1052.4" stroke="#444" stroke-width="1"/><text x="155.4" y="1071.4" font-size="17.5" text-anchor="middle">10<tspan font-size="12" dy="-7.7">3</tspan></text><line x1="211.2" y1="1048.4" x2="211.2" y2="1052.4" stroke="#444" stroke-width="1"/><text x="211.2" y="1071.4" font-size="17.5" text-anchor="middle">10<tspan font-size="12" dy="-7.7">4</tspan></text><line x1="267" y1="1048.4" x2="267" y2="1052.4" stroke="#444" stroke-width="1"/><text x="267" y="1071.4" font-size="17.5" text-anchor="middle">10<tspan font-size="12" dy="-7.7">5</tspan></text><line x1="50.9" y1="1048.4" x2="50.9" y2="1051.4" stroke="#444" stroke-width="1"/><clipPath id="ec1"><rect x="354.3" y="898.2" width="239.7" height="147.70000000000005"/></clipPath><g clip-path="url(#ec1)"><polygon points="375.2,1045.7 384.7,1013.0 390.4,933.0 395.2,908.3 398.0,915.9 401.9,957.8 407.6,990.1 411.4,1003.4 417.1,1011.1 426.6,1014.9 436.1,1012.0 440.0,1014.5 443.7,1014.9 447.5,1012.0 458.9,1012.0 466.5,1016.8 474.2,1020.6 481.8,1022.5 489.4,1028.2 500.8,1035.8 512.2,1041.5 527.4,1045.5 527.4,1045.9 375.2,1045.9" fill="#d4d4d4" stroke="none"/><polyline points="375.2,1045.7 384.7,1013.0 390.4,933.0 395.2,908.3 398.0,915.9 401.9,957.8 407.6,990.1 411.4,1003.4 417.1,1011.1 426.6,1014.9 436.1,1012.0 440.0,1014.5 443.7,1014.9 447.5,1012.0 458.9,1012.0 466.5,1016.8 474.2,1020.6 481.8,1022.5 489.4,1028.2 500.8,1035.8 512.2,1041.5 527.4,1045.5" fill="none" stroke="#999" stroke-width="1.1"/><polyline points="375.2,1045.7 384.7,1009.2 391.4,929.2 395.2,908.3 399.0,923.5 403.8,967.3 409.5,1001.5 417.1,1010.1 426.6,1013.0 436.1,1011.1 445.6,1009.2 455.1,1010.1 462.7,1011.1 474.2,1014.9 483.7,1020.6 493.2,1028.2 504.6,1035.8 517.9,1041.5 531.2,1045.3" fill="none" stroke="#000" stroke-width="2.3" stroke-dasharray="2.6 2"/><polyline points="373.3,1045.7 379.0,1039.6 384.7,1009.2 390.4,929.2 395.2,907.4 398.0,915.9 400.9,948.3 403.8,974.9 406.6,980.6 408.5,988.2 411.4,999.6 414.2,997.7 417.1,993.0 419.0,1003.4 422.8,1005.4 425.6,1004.4 428.5,1008.2 436.1,1008.2 440.0,1007.5 443.7,1008.2 449.4,1009.2 455.1,1013.9 462.7,1016.8 466.0,1023.0 468.4,1024.4 474.2,1030.1 483.7,1035.8 497.0,1040.5 512.2,1044.4 525.5,1045.7" fill="none" stroke="#000" stroke-width="2"/></g><path d="M354.3,898.2H594V1045.9" fill="none" stroke="#000" stroke-width="1.5"/><path d="M354.3,897.5V1045.9H594.7" fill="none" stroke="#000" stroke-width="2"/><line x1="349.3" y1="1045.9" x2="354.3" y2="1045.9" stroke="#444" stroke-width="1"/><text x="343.8" y="1050.7" font-size="17.5" text-anchor="end">0</text><line x1="351.8" y1="1038.8" x2="354.3" y2="1038.8" stroke="#666" stroke-width="0.7"/><line x1="351.8" y1="1031.7" x2="354.3" y2="1031.7" stroke="#666" stroke-width="0.7"/><line x1="351.8" y1="1024.6" x2="354.3" y2="1024.6" stroke="#666" stroke-width="0.7"/><line x1="349.3" y1="1017.6" x2="354.3" y2="1017.6" stroke="#444" stroke-width="1"/><text x="343.8" y="1022.4" font-size="17.5" text-anchor="end">20</text><line x1="351.8" y1="1010.5" x2="354.3" y2="1010.5" stroke="#666" stroke-width="0.7"/><line x1="351.8" y1="1003.4" x2="354.3" y2="1003.4" stroke="#666" stroke-width="0.7"/><line x1="351.8" y1="996.3" x2="354.3" y2="996.3" stroke="#666" stroke-width="0.7"/><line x1="349.3" y1="989.2" x2="354.3" y2="989.2" stroke="#444" stroke-width="1"/><text x="343.8" y="994.0" font-size="17.5" text-anchor="end">40</text><line x1="351.8" y1="982.1" x2="354.3" y2="982.1" stroke="#666" stroke-width="0.7"/><line x1="351.8" y1="975.1" x2="354.3" y2="975.1" stroke="#666" stroke-width="0.7"/><line x1="351.8" y1="968.0" x2="354.3" y2="968.0" stroke="#666" stroke-width="0.7"/><line x1="349.3" y1="960.9" x2="354.3" y2="960.9" stroke="#444" stroke-width="1"/><text x="343.8" y="965.7" font-size="17.5" text-anchor="end">60</text><line x1="351.8" y1="953.8" x2="354.3" y2="953.8" stroke="#666" stroke-width="0.7"/><line x1="351.8" y1="946.7" x2="354.3" y2="946.7" stroke="#666" stroke-width="0.7"/><line x1="351.8" y1="939.6" x2="354.3" y2="939.6" stroke="#666" stroke-width="0.7"/><line x1="349.3" y1="932.5" x2="354.3" y2="932.5" stroke="#444" stroke-width="1"/><text x="343.8" y="937.3" font-size="17.5" text-anchor="end">80</text><line x1="351.8" y1="925.5" x2="354.3" y2="925.5" stroke="#666" stroke-width="0.7"/><line x1="351.8" y1="918.4" x2="354.3" y2="918.4" stroke="#666" stroke-width="0.7"/><line x1="351.8" y1="911.3" x2="354.3" y2="911.3" stroke="#666" stroke-width="0.7"/><line x1="349.3" y1="904.2" x2="354.3" y2="904.2" stroke="#444" stroke-width="1"/><text x="343.8" y="909.0" font-size="17.5" text-anchor="end">100</text><line x1="421.8" y1="1045.9" x2="421.8" y2="1048.4" stroke="#777" stroke-width="0.7"/><line x1="431.4" y1="1045.9" x2="431.4" y2="1048.4" stroke="#777" stroke-width="0.7"/><line x1="438.2" y1="1045.9" x2="438.2" y2="1048.4" stroke="#777" stroke-width="0.7"/><line x1="443.5" y1="1045.9" x2="443.5" y2="1048.4" stroke="#777" stroke-width="0.7"/><line x1="447.8" y1="1045.9" x2="447.8" y2="1048.4" stroke="#777" stroke-width="0.7"/><line x1="451.5" y1="1045.9" x2="451.5" y2="1048.4" stroke="#777" stroke-width="0.7"/><line x1="454.6" y1="1045.9" x2="454.6" y2="1048.4" stroke="#777" stroke-width="0.7"/><line x1="457.4" y1="1045.9" x2="457.4" y2="1048.4" stroke="#777" stroke-width="0.7"/><line x1="476.3" y1="1045.9" x2="476.3" y2="1048.4" stroke="#777" stroke-width="0.7"/><line x1="485.9" y1="1045.9" x2="485.9" y2="1048.4" stroke="#777" stroke-width="0.7"/><line x1="492.7" y1="1045.9" x2="492.7" y2="1048.4" stroke="#777" stroke-width="0.7"/><line x1="498.0" y1="1045.9" x2="498.0" y2="1048.4" stroke="#777" stroke-width="0.7"/><line x1="502.3" y1="1045.9" x2="502.3" y2="1048.4" stroke="#777" stroke-width="0.7"/><line x1="506.0" y1="1045.9" x2="506.0" y2="1048.4" stroke="#777" stroke-width="0.7"/><line x1="509.1" y1="1045.9" x2="509.1" y2="1048.4" stroke="#777" stroke-width="0.7"/><line x1="511.9" y1="1045.9" x2="511.9" y2="1048.4" stroke="#777" stroke-width="0.7"/><line x1="530.8" y1="1045.9" x2="530.8" y2="1048.4" stroke="#777" stroke-width="0.7"/><line x1="540.4" y1="1045.9" x2="540.4" y2="1048.4" stroke="#777" stroke-width="0.7"/><line x1="547.2" y1="1045.9" x2="547.2" y2="1048.4" stroke="#777" stroke-width="0.7"/><line x1="552.5" y1="1045.9" x2="552.5" y2="1048.4" stroke="#777" stroke-width="0.7"/><line x1="556.8" y1="1045.9" x2="556.8" y2="1048.4" stroke="#777" stroke-width="0.7"/><line x1="560.5" y1="1045.9" x2="560.5" y2="1048.4" stroke="#777" stroke-width="0.7"/><line x1="563.6" y1="1045.9" x2="563.6" y2="1048.4" stroke="#777" stroke-width="0.7"/><line x1="566.4" y1="1045.9" x2="566.4" y2="1048.4" stroke="#777" stroke-width="0.7"/><line x1="585.3" y1="1045.9" x2="585.3" y2="1048.4" stroke="#777" stroke-width="0.7"/><line x1="379.2" y1="1045.9" x2="379.2" y2="1049.9" stroke="#444" stroke-width="1"/><text x="379.2" y="1068.9" font-size="17.5" text-anchor="middle">0</text><line x1="405.4" y1="1045.9" x2="405.4" y2="1049.9" stroke="#444" stroke-width="1"/><text x="405.4" y="1068.9" font-size="17.5" text-anchor="middle">10<tspan font-size="12" dy="-7.7">2</tspan></text><line x1="459.9" y1="1045.9" x2="459.9" y2="1049.9" stroke="#444" stroke-width="1"/><text x="459.9" y="1068.9" font-size="17.5" text-anchor="middle">10<tspan font-size="12" dy="-7.7">3</tspan></text><line x1="514.4" y1="1045.9" x2="514.4" y2="1049.9" stroke="#444" stroke-width="1"/><text x="514.4" y="1068.9" font-size="17.5" text-anchor="middle">10<tspan font-size="12" dy="-7.7">4</tspan></text><line x1="568.9" y1="1045.9" x2="568.9" y2="1049.9" stroke="#444" stroke-width="1"/><text x="568.9" y="1068.9" font-size="17.5" text-anchor="middle">10<tspan font-size="12" dy="-7.7">5</tspan></text><line x1="355.3" y1="1045.9" x2="355.3" y2="1048.9" stroke="#444" stroke-width="1"/><clipPath id="ec2"><rect x="661.6" y="897.2" width="222.69999999999993" height="148.29999999999995"/></clipPath><g clip-path="url(#ec2)"><polygon points="683.3,1045.3 689.0,1032.0 694.7,974.9 700.4,906.4 703.3,917.8 708.1,965.4 710.9,990.1 714.7,1009.2 721.4,1016.8 724.0,1014.5 727.1,1018.7 730.0,1017.0 734.7,1021.5 742.3,1021.5 751.8,1024.4 761.3,1022.5 765.1,1023.4 772.7,1026.3 784.2,1032.0 803.2,1036.7 814.6,1039.6 826.0,1043.4 835.5,1045.3 835.5,1045.5 683.3,1045.5" fill="#d4d4d4" stroke="none"/><polyline points="683.3,1045.3 689.0,1032.0 694.7,974.9 700.4,906.4 703.3,917.8 708.1,965.4 710.9,990.1 714.7,1009.2 721.4,1016.8 724.0,1014.5 727.1,1018.7 730.0,1017.0 734.7,1021.5 742.3,1021.5 751.8,1024.4 761.3,1022.5 765.1,1023.4 772.7,1026.3 784.2,1032.0 803.2,1036.7 814.6,1039.6 826.0,1043.4 835.5,1045.3" fill="none" stroke="#999" stroke-width="1.1"/><polyline points="683.3,1045.3 690.9,1028.2 696.6,961.6 702.3,908.3 706.1,919.7 710.0,948.3 713.8,965.4 717.6,978.7 727.1,988.2 736.6,997.7 746.1,997.7 757.5,1001.5 765.1,1007.3 774.6,1016.8 784.2,1028.2 799.4,1035.8 814.6,1040.5 831.7,1045.3" fill="none" stroke="#000" stroke-width="2.3" stroke-dasharray="2.6 2"/><polyline points="673.0,1045.3 681.4,1045.3 689.0,1026.3 694.7,959.7 700.4,906.4 705.2,921.6 708.1,952.1 710.9,974.9 715.7,986.3 721.4,980.6 725.2,988.2 728.0,979.7 730.9,991.1 736.6,995.8 742.3,1001.5 745.0,999.0 748.0,1000.6 753.7,1003.4 759.4,1011.1 767.0,1018.7 774.6,1026.3 784.2,1033.9 795.6,1039.6 810.8,1043.4 826.0,1045.3 840.0,1045.3" fill="none" stroke="#000" stroke-width="2"/></g><path d="M661.6,897.2H884.3V1045.5" fill="none" stroke="#000" stroke-width="1.5"/><path d="M661.6,896.5V1045.5H885.0" fill="none" stroke="#000" stroke-width="2"/><line x1="656.6" y1="1045.5" x2="661.6" y2="1045.5" stroke="#444" stroke-width="1"/><text x="652.0" y="1050.3" font-size="17.5" text-anchor="end">0</text><line x1="659.1" y1="1038.5" x2="661.6" y2="1038.5" stroke="#666" stroke-width="0.7"/><line x1="659.1" y1="1031.4" x2="661.6" y2="1031.4" stroke="#666" stroke-width="0.7"/><line x1="659.1" y1="1024.4" x2="661.6" y2="1024.4" stroke="#666" stroke-width="0.7"/><line x1="656.6" y1="1017.4" x2="661.6" y2="1017.4" stroke="#444" stroke-width="1"/><text x="652.0" y="1022.2" font-size="17.5" text-anchor="end">20</text><line x1="659.1" y1="1010.4" x2="661.6" y2="1010.4" stroke="#666" stroke-width="0.7"/><line x1="659.1" y1="1003.3" x2="661.6" y2="1003.3" stroke="#666" stroke-width="0.7"/><line x1="659.1" y1="996.3" x2="661.6" y2="996.3" stroke="#666" stroke-width="0.7"/><line x1="656.6" y1="989.3" x2="661.6" y2="989.3" stroke="#444" stroke-width="1"/><text x="652.0" y="994.1" font-size="17.5" text-anchor="end">40</text><line x1="659.1" y1="982.2" x2="661.6" y2="982.2" stroke="#666" stroke-width="0.7"/><line x1="659.1" y1="975.2" x2="661.6" y2="975.2" stroke="#666" stroke-width="0.7"/><line x1="659.1" y1="968.2" x2="661.6" y2="968.2" stroke="#666" stroke-width="0.7"/><line x1="656.6" y1="961.1" x2="661.6" y2="961.1" stroke="#444" stroke-width="1"/><text x="652.0" y="965.9" font-size="17.5" text-anchor="end">60</text><line x1="659.1" y1="954.1" x2="661.6" y2="954.1" stroke="#666" stroke-width="0.7"/><line x1="659.1" y1="947.1" x2="661.6" y2="947.1" stroke="#666" stroke-width="0.7"/><line x1="659.1" y1="940.0" x2="661.6" y2="940.0" stroke="#666" stroke-width="0.7"/><line x1="656.6" y1="933.0" x2="661.6" y2="933.0" stroke="#444" stroke-width="1"/><text x="652.0" y="937.8" font-size="17.5" text-anchor="end">80</text><line x1="659.1" y1="926.0" x2="661.6" y2="926.0" stroke="#666" stroke-width="0.7"/><line x1="659.1" y1="919.0" x2="661.6" y2="919.0" stroke="#666" stroke-width="0.7"/><line x1="659.1" y1="911.9" x2="661.6" y2="911.9" stroke="#666" stroke-width="0.7"/><line x1="656.6" y1="904.9" x2="661.6" y2="904.9" stroke="#444" stroke-width="1"/><text x="652.0" y="909.7" font-size="17.5" text-anchor="end">100</text><line x1="724.7" y1="1045.5" x2="724.7" y2="1048.0" stroke="#777" stroke-width="0.7"/><line x1="733.6" y1="1045.5" x2="733.6" y2="1048.0" stroke="#777" stroke-width="0.7"/><line x1="739.9" y1="1045.5" x2="739.9" y2="1048.0" stroke="#777" stroke-width="0.7"/><line x1="744.8" y1="1045.5" x2="744.8" y2="1048.0" stroke="#777" stroke-width="0.7"/><line x1="748.8" y1="1045.5" x2="748.8" y2="1048.0" stroke="#777" stroke-width="0.7"/><line x1="752.2" y1="1045.5" x2="752.2" y2="1048.0" stroke="#777" stroke-width="0.7"/><line x1="755.1" y1="1045.5" x2="755.1" y2="1048.0" stroke="#777" stroke-width="0.7"/><line x1="757.7" y1="1045.5" x2="757.7" y2="1048.0" stroke="#777" stroke-width="0.7"/><line x1="775.2" y1="1045.5" x2="775.2" y2="1048.0" stroke="#777" stroke-width="0.7"/><line x1="784.1" y1="1045.5" x2="784.1" y2="1048.0" stroke="#777" stroke-width="0.7"/><line x1="790.4" y1="1045.5" x2="790.4" y2="1048.0" stroke="#777" stroke-width="0.7"/><line x1="795.3" y1="1045.5" x2="795.3" y2="1048.0" stroke="#777" stroke-width="0.7"/><line x1="799.3" y1="1045.5" x2="799.3" y2="1048.0" stroke="#777" stroke-width="0.7"/><line x1="802.7" y1="1045.5" x2="802.7" y2="1048.0" stroke="#777" stroke-width="0.7"/><line x1="805.6" y1="1045.5" x2="805.6" y2="1048.0" stroke="#777" stroke-width="0.7"/><line x1="808.2" y1="1045.5" x2="808.2" y2="1048.0" stroke="#777" stroke-width="0.7"/><line x1="825.7" y1="1045.5" x2="825.7" y2="1048.0" stroke="#777" stroke-width="0.7"/><line x1="834.6" y1="1045.5" x2="834.6" y2="1048.0" stroke="#777" stroke-width="0.7"/><line x1="840.9" y1="1045.5" x2="840.9" y2="1048.0" stroke="#777" stroke-width="0.7"/><line x1="845.8" y1="1045.5" x2="845.8" y2="1048.0" stroke="#777" stroke-width="0.7"/><line x1="849.8" y1="1045.5" x2="849.8" y2="1048.0" stroke="#777" stroke-width="0.7"/><line x1="853.2" y1="1045.5" x2="853.2" y2="1048.0" stroke="#777" stroke-width="0.7"/><line x1="856.1" y1="1045.5" x2="856.1" y2="1048.0" stroke="#777" stroke-width="0.7"/><line x1="858.7" y1="1045.5" x2="858.7" y2="1048.0" stroke="#777" stroke-width="0.7"/><line x1="876.2" y1="1045.5" x2="876.2" y2="1048.0" stroke="#777" stroke-width="0.7"/><line x1="684.7" y1="1045.5" x2="684.7" y2="1049.5" stroke="#444" stroke-width="1"/><text x="684.7" y="1068.5" font-size="17.5" text-anchor="middle">0</text><line x1="709.5" y1="1045.5" x2="709.5" y2="1049.5" stroke="#444" stroke-width="1"/><text x="709.5" y="1068.5" font-size="17.5" text-anchor="middle">10<tspan font-size="12" dy="-7.7">2</tspan></text><line x1="760" y1="1045.5" x2="760" y2="1049.5" stroke="#444" stroke-width="1"/><text x="760" y="1068.5" font-size="17.5" text-anchor="middle">10<tspan font-size="12" dy="-7.7">3</tspan></text><line x1="809.5" y1="1045.5" x2="809.5" y2="1049.5" stroke="#444" stroke-width="1"/><text x="809.5" y="1068.5" font-size="17.5" text-anchor="middle">10<tspan font-size="12" dy="-7.7">4</tspan></text><line x1="859" y1="1045.5" x2="859" y2="1049.5" stroke="#444" stroke-width="1"/><text x="859" y="1068.5" font-size="17.5" text-anchor="middle">10<tspan font-size="12" dy="-7.7">5</tspan></text><line x1="662.6" y1="1045.5" x2="662.6" y2="1048.5" stroke="#444" stroke-width="1"/><text x="172.5" y="886" font-size="17.5" text-anchor="middle">WT</text><text x="478.3" y="886" font-size="17.5" text-anchor="middle" font-style="italic">lpr/lpr</text><text x="713" y="886" font-size="17.5">FasC194V<tspan font-size="12" dy="-7" font-style="italic">lpr/lpr</tspan></text><text x="207.8" y="929.7" font-size="18">FasL-LZ</text><text x="207.8" y="951" font-size="18">(ng ml<tspan font-size="11.5" dy="-7">−1</tspan><tspan dy="7">)</tspan></text><rect x="214.8" y="964.7" width="20.3" height="4" fill="#aaa"/><path d="M214.8,985.3H227.5M230.3,985.3H235" stroke="#000" stroke-width="4" fill="none"/><rect x="214.8" y="1001.9" width="20.3" height="4" fill="#000"/><text x="258" y="972.9" font-size="17.5" text-anchor="middle">0</text><text x="253" y="991.5" font-size="17.5" text-anchor="middle">10</text><text x="253" y="1010.1" font-size="17.5" text-anchor="middle">20</text><text x="47.4" y="1096.2" font-size="17.5">pS6</text><path d="M91.3,1091H216" stroke="#000" stroke-width="4.5" fill="none"/><path d="M214,1084 L230,1091 L214,1098Z" fill="#000"/>
</svg></body></html>
